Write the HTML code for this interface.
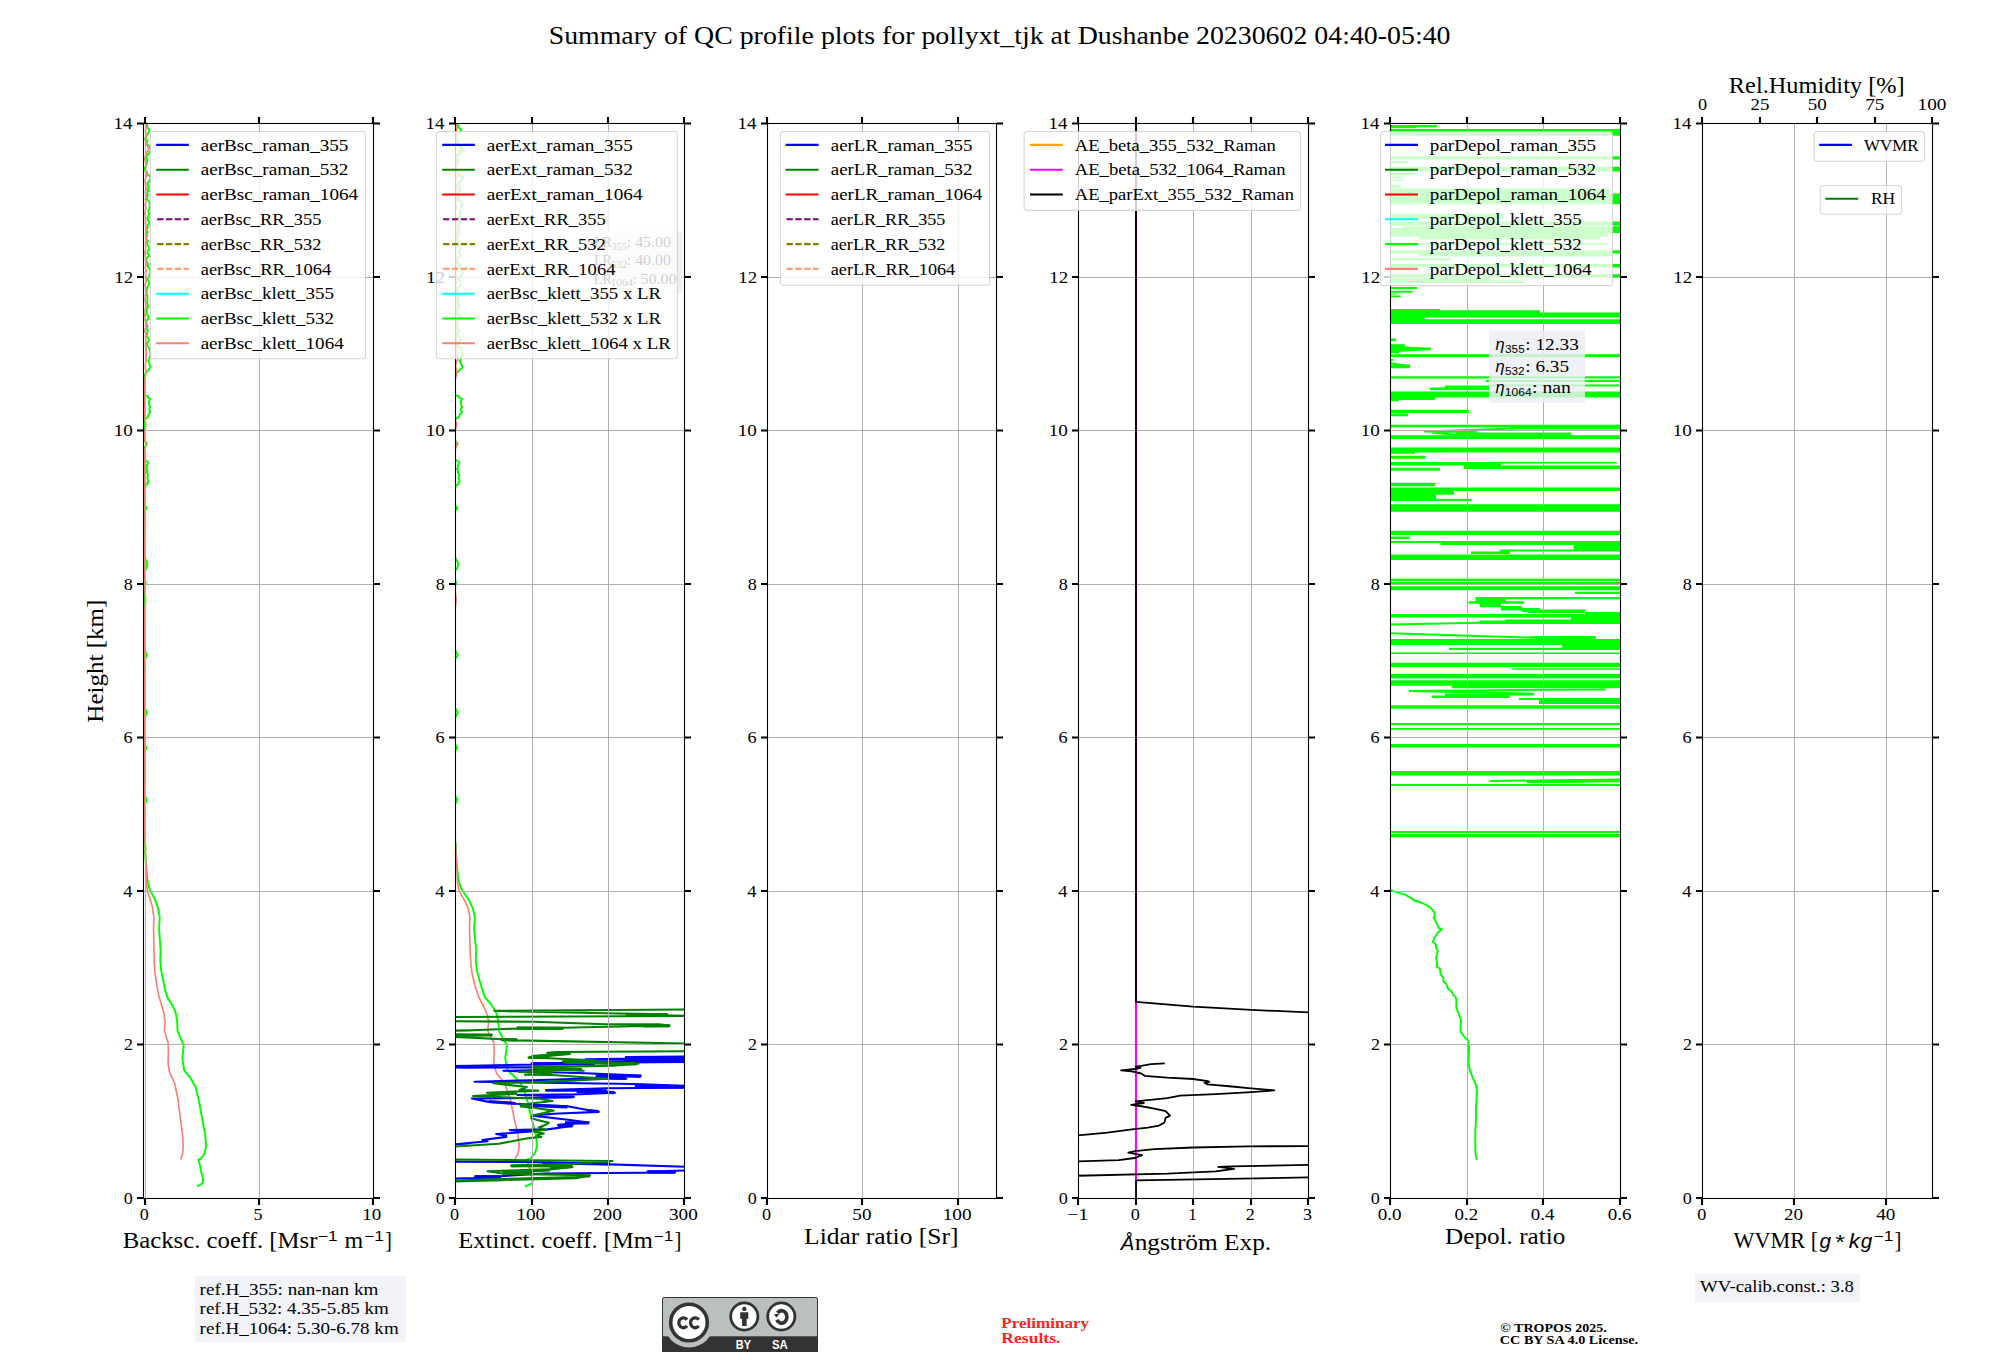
<!DOCTYPE html>
<html><head><meta charset="utf-8"><title>QC profile summary</title>
<style>html,body{margin:0;padding:0;background:#fff}svg{display:block}svg{font-family:"Liberation Serif",serif}text{white-space:pre}</style></head>
<body>
<svg width="2000" height="1360" viewBox="0 0 2000 1360" font-family="Liberation Serif, serif" fill="#000">
<rect width="2000" height="1360" fill="#fff"/>
<text x="122.74" y="1248.10" font-size="22.60" textLength="194.67" lengthAdjust="spacingAndGlyphs">Backsc. coeff. [Msr</text>
<text x="317.84" y="1240.50" font-size="14.42" textLength="19.68" lengthAdjust="spacingAndGlyphs" font-family="Liberation Sans, sans-serif">−1</text>
<text x="344.61" y="1248.10" font-size="22.60" textLength="18.69" lengthAdjust="spacingAndGlyphs">m</text>
<text x="364.12" y="1240.50" font-size="14.42" textLength="19.68" lengthAdjust="spacingAndGlyphs" font-family="Liberation Sans, sans-serif">−1</text>
<text x="385.04" y="1248.10" font-size="22.60" textLength="6.91" lengthAdjust="spacingAndGlyphs">]</text>
<text x="458.35" y="1248.10" font-size="22.60" textLength="194.47" lengthAdjust="spacingAndGlyphs">Extinct. coeff. [Mm</text>
<text x="653.61" y="1240.50" font-size="14.42" textLength="19.68" lengthAdjust="spacingAndGlyphs" font-family="Liberation Sans, sans-serif">−1</text>
<text x="674.53" y="1248.10" font-size="22.60" textLength="6.91" lengthAdjust="spacingAndGlyphs">]</text>
<text x="804.12" y="1243.60" font-size="22.60" textLength="154.40" lengthAdjust="spacingAndGlyphs">Lidar ratio [Sr]</text>
<text x="1120.72" y="1249.50" font-size="20.60" textLength="13.57" lengthAdjust="spacingAndGlyphs" font-family="Liberation Sans, sans-serif" font-style="italic">Å</text>
<text x="1134.70" y="1249.50" font-size="22.60" textLength="136.51" lengthAdjust="spacingAndGlyphs">ngström Exp.</text>
<text x="1445.13" y="1243.60" font-size="22.60" textLength="120.14" lengthAdjust="spacingAndGlyphs">Depol. ratio</text>
<text x="1733.60" y="1248.10" font-size="22.60" textLength="84.43" lengthAdjust="spacingAndGlyphs">WVMR [</text>
<text x="1819.49" y="1248.10" font-size="20.60" textLength="11.54" lengthAdjust="spacingAndGlyphs" font-family="Liberation Sans, sans-serif" font-style="italic">g</text>
<text x="1835.20" y="1249.30" font-size="20.60" textLength="9.67" lengthAdjust="spacingAndGlyphs" font-family="Liberation Sans, sans-serif">*</text>
<text x="1848.78" y="1248.10" font-size="20.60" textLength="11.10" lengthAdjust="spacingAndGlyphs" font-family="Liberation Sans, sans-serif" font-style="italic">k</text>
<text x="1860.81" y="1248.10" font-size="20.60" textLength="11.54" lengthAdjust="spacingAndGlyphs" font-family="Liberation Sans, sans-serif" font-style="italic">g</text>
<text x="1873.57" y="1240.50" font-size="14.42" textLength="19.68" lengthAdjust="spacingAndGlyphs" font-family="Liberation Sans, sans-serif">−1</text>
<text x="1894.49" y="1248.10" font-size="22.60" textLength="6.91" lengthAdjust="spacingAndGlyphs">]</text>
<text x="1728.85" y="93.30" font-size="22.60" textLength="175.80" lengthAdjust="spacingAndGlyphs">Rel.Humidity [%]</text>
<text x="42.05" y="661.70" font-size="22.60" textLength="123.05" lengthAdjust="spacingAndGlyphs" transform="rotate(-90 103.00 661.70)">Height [km]</text>
<text x="1697.96" y="109.50" font-size="17.26" textLength="9.07" lengthAdjust="spacingAndGlyphs">0</text>
<text x="1750.49" y="109.50" font-size="17.26" textLength="18.90" lengthAdjust="spacingAndGlyphs">25</text>
<text x="1807.78" y="109.50" font-size="17.26" textLength="19.06" lengthAdjust="spacingAndGlyphs">50</text>
<text x="1865.16" y="109.50" font-size="17.26" textLength="19.10" lengthAdjust="spacingAndGlyphs">75</text>
<text x="1917.57" y="109.50" font-size="17.26" textLength="28.89" lengthAdjust="spacingAndGlyphs">100</text>
<text x="548.65" y="43.90" font-size="25.11" textLength="901.84" lengthAdjust="spacingAndGlyphs">Summary of QC profile plots for pollyxt_tjk at Dushanbe 20230602 04:40-05:40</text>
<clipPath id="c0"><rect x="143.5" y="123.5" width="230.0" height="1075.0"/></clipPath>
<g clip-path="url(#c0)">
<path d="M147.2 123.5L146.5 124.8L147.5 126.2L147.4 127.5L148.8 128.9L149.5 130.2L148.8 131.6L148.7 132.9L147.1 134.3L146.8 135.6L146.0 137.0L145.7 138.3L146.4 139.7L147.7 141.0L146.7 142.4L146.5 143.7L147.8 145.1L149.7 146.4L150.2 147.8L150.3 149.1L151.6 150.5L149.2 151.8L149.6 153.2L148.2 154.5L146.7 155.9L146.1 157.2L146.3 158.6L147.7 159.9L146.8 161.3L146.8 162.6L146.8 164.0L146.0 165.3L145.7 166.7L144.9 168.0L144.7 169.4L145.2 170.7L146.8 172.1L147.2 173.4L147.7 174.8L149.6 176.1L150.9 177.5L150.1 178.8L149.8 180.2L148.8 181.5L147.4 182.9L147.6 184.2L147.7 185.6L148.6 186.9L148.7 188.3L147.7 189.6L148.8 191.0L147.3 192.3L147.3 193.7L148.0 195.0L147.0 196.4L147.4 197.7L146.8 199.1L148.1 200.4L149.3 201.8L149.6 203.1L150.6 204.5L149.6 205.8L149.6 207.2L149.3 208.5L148.9 209.9L148.2 211.2L148.6 212.6L149.2 213.9L148.4 215.3L148.4 216.6L147.0 218.0L147.8 219.3L148.0 220.7L149.1 222.0L149.2 223.4L147.9 224.7L147.5 226.1L148.0 227.4L146.6 228.8L147.0 230.1L146.4 231.5L146.0 232.8L145.7 234.2L147.2 235.5L146.5 236.9L146.4 238.2L146.6 239.6L148.0 240.9L146.8 242.3L147.0 243.6L147.4 245.0L148.4 246.3L148.8 247.7L149.2 249.0L147.9 250.4L147.6 251.7L147.2 253.1L148.3 254.4L149.1 255.8L147.6 257.1L146.8 258.5L146.5 259.8L146.3 261.2L147.1 262.5L148.1 263.9L148.1 265.2L147.7 266.6L148.8 267.9L149.4 269.3L150.0 270.6L150.8 272.0L150.3 273.3L149.4 274.7L148.9 276.0L148.6 277.4L146.9 278.7L148.2 280.1L148.6 281.4L149.1 282.8L149.1 284.1L148.2 285.5L147.7 286.8L146.7 288.2L147.4 289.6L146.6 290.9L146.3 292.3L146.7 293.6L146.9 295.0L147.5 296.3L147.3 297.7L147.2 299.0L147.4 300.4L147.1 301.7L147.5 303.1L146.7 304.4L148.3 305.8L148.4 307.1L147.1 308.5L146.6 309.8L146.7 311.2L146.8 312.5L146.2 313.9L147.7 315.2L148.9 316.6L148.2 317.9L147.9 319.3L146.7 320.6L146.2 322.0L146.4 323.3L146.4 324.7L147.7 326.0L146.8 327.4L146.0 328.7L147.8 330.1L147.8 331.4L146.8 332.8L147.3 334.1L146.3 335.5L146.9 336.8L148.4 338.2L148.9 339.5L148.8 340.9L147.7 342.2L147.3 343.6L146.6 344.9L147.9 346.3L148.6 347.6L149.8 349.0L149.8 350.3L149.7 351.7L150.5 353.0L150.8 354.4L150.4 355.7L149.7 357.1L149.3 358.4L149.1 359.8L148.3 361.1L148.9 362.5L149.3 363.8L149.6 365.2L150.5 366.5L150.2 367.9L148.9 369.2L147.9 370.6L146.8 371.9L145.4 373.3L144.8 374.6L145.0 376.0L145.1 377.3L144.7 378.7L144.4 380.0L144.3 381.4L144.2 382.7L144.1 384.1L144.4 385.4L144.7 386.8L144.8 388.1L144.7 389.5L144.7 390.8L144.8 392.2L144.4 393.5L144.5 394.9L147.7 396.2L147.8 397.6L150.2 398.9L149.6 400.3L148.8 401.6L149.5 403.0L149.0 404.3L149.6 405.7L150.3 407.0L149.6 408.4L149.2 409.7L150.0 411.1L150.0 412.4L149.0 413.8L148.3 415.1L148.0 416.5L147.0 417.8L144.7 419.2L144.4 420.5L144.7 421.9L144.9 423.2L144.8 424.6L144.6 425.9L144.6 427.3L144.3 428.6L144.1 430.0L144.6 431.3L144.6 432.7L144.6 434.0L144.8 435.4L144.6 436.7L144.8 438.1L144.9 439.4L145.1 440.8L145.8 442.1L146.7 443.5L146.5 444.8L145.7 446.2L144.6 447.5L144.3 448.9L144.2 450.2L144.6 451.6L144.5 452.9L144.4 454.3L144.5 455.6L144.8 457.0L144.6 458.3L144.8 459.7L146.6 461.0L148.1 462.4L147.9 463.7L146.9 465.1L147.1 466.4L146.8 467.8L146.2 469.1L147.5 470.5L146.9 471.8L147.2 473.2L147.9 474.5L147.9 475.9L147.5 477.2L147.6 478.6L147.8 479.9L148.3 481.3L147.3 482.6L147.6 484.0L145.5 485.3L145.4 486.7L144.5 488.0L144.5 489.4L144.6 490.7L144.7 492.1L144.9 493.4L144.7 494.8L144.7 496.1L144.6 497.5L144.6 498.8L144.7 500.2L144.6 501.5L144.6 502.9L144.5 504.2L145.1 505.6L145.9 506.9L146.6 508.3L145.8 509.6L144.7 511.0L144.6 512.3L144.8 513.7L144.9 515.0L144.5 516.4L144.2 517.7L144.3 519.1L144.1 520.4L144.1 521.8L144.0 523.1L144.3 524.5L144.6 525.8L144.8 527.2L144.4 528.5L144.6 529.9L144.7 531.2L144.4 532.6L144.7 533.9L144.9 535.3L144.5 536.6L144.8 538.0L144.6 539.3L144.6 540.7L144.8 542.0L144.9 543.4L144.5 544.7L144.5 546.1L144.5 547.4L144.4 548.8L144.2 550.1L144.2 551.5L144.5 552.8L144.2 554.2L144.5 555.5L145.0 556.9L145.2 558.2L145.7 559.6L146.4 560.9L146.9 562.3L147.1 563.6L147.3 565.0L147.0 566.3L146.7 567.7L145.8 569.0L145.2 570.4L144.5 571.7L144.5 573.1L144.3 574.4L144.2 575.8L144.3 577.1L144.6 578.5L145.1 579.8L145.3 581.2L145.6 582.5L145.8 583.9L145.3 585.2L144.9 586.6L144.3 587.9L144.1 589.3L144.4 590.6L144.4 592.0L144.2 593.3L144.6 594.7L144.6 596.0L144.8 597.4L144.4 598.7L144.7 600.1L144.3 601.4L144.6 602.8L144.5 604.1L144.4 605.5L144.5 606.8L144.8 608.2L144.5 609.5L144.3 610.9L144.4 612.2L144.3 613.6L144.1 614.9L144.1 616.3L144.0 617.6L144.0 619.0L144.1 620.3L144.2 621.7L144.5 623.0L144.4 624.4L144.4 625.7L144.2 627.1L144.3 628.4L144.1 629.8L144.1 631.1L144.0 632.5L144.4 633.8L144.5 635.2L144.3 636.5L144.4 637.9L144.7 639.2L144.4 640.6L144.6 641.9L144.5 643.3L144.5 644.6L144.7 646.0L144.6 647.3L144.5 648.7L144.6 650.0L145.5 651.4L145.8 652.7L146.6 654.1L146.8 655.4L146.2 656.8L145.4 658.1L144.7 659.5L144.2 660.8L144.1 662.2L144.0 663.5L144.4 664.9L144.3 666.2L144.2 667.6L144.0 668.9L144.5 670.3L144.7 671.6L144.7 673.0L144.5 674.3L144.3 675.7L144.3 677.0L144.3 678.4L144.2 679.7L144.3 681.1L144.2 682.4L144.7 683.8L144.9 685.1L144.7 686.5L144.5 687.8L144.8 689.2L144.5 690.5L144.4 691.9L144.1 693.2L144.2 694.6L144.3 695.9L144.4 697.3L144.3 698.6L144.4 700.0L144.1 701.3L144.1 702.7L144.0 704.0L144.2 705.4L144.3 706.7L144.8 708.1L145.5 709.4L146.1 710.8L146.9 712.1L146.4 713.5L146.0 714.8L145.5 716.2L144.9 717.5L144.9 718.9L144.6 720.2L144.5 721.6L144.8 722.9L144.4 724.3L144.6 725.6L144.7 727.0L144.3 728.3L144.6 729.7L144.8 731.0L144.8 732.4L144.8 733.7L144.9 735.1L144.5 736.4L144.5 737.8L144.5 739.1L144.7 740.5L144.8 741.8L144.9 743.2L145.0 744.5L145.6 745.9L146.1 747.2L146.2 748.6L145.3 749.9L144.5 751.3L144.1 752.6L144.2 754.0L144.1 755.3L144.5 756.7L144.5 758.0L144.6 759.4L144.6 760.7L144.7 762.1L144.6 763.4L144.2 764.8L144.5 766.1L144.7 767.5L144.6 768.8L144.6 770.2L144.6 771.5L144.3 772.9L144.5 774.2L144.4 775.6L144.1 776.9L144.2 778.3L144.5 779.6L144.3 781.0L144.5 782.3L144.8 783.7L144.7 785.0L144.5 786.4L144.5 787.7L144.6 789.1L144.7 790.4L144.7 791.8L144.7 793.1L144.8 794.5L145.1 795.8L145.5 797.2L146.2 798.5L146.5 799.9L146.3 801.2L145.6 802.6L145.0 803.9L144.6 805.3L144.5 806.6L144.6 808.0L144.6 809.3L144.4 810.7L144.5 812.0L144.5 813.4L144.5 814.7L144.2 816.1L144.6 817.4L144.4 818.8L144.7 820.1L144.9 821.5L144.4 822.8L144.4 824.2L144.7 825.5L144.9 826.9L144.7 828.2L144.5 829.6L144.3 830.9L144.7 832.3L144.4 833.6L144.5 835.0L144.3 836.3L144.5 837.7L145.0 839.0L144.7 840.4L145.0 841.7L145.0 843.1L145.3 844.4L145.4 845.8L145.2 847.1L145.5 848.5L145.5 849.8L145.2 851.2L145.0 852.5L145.3 853.9L145.5 855.2L145.5 856.6L145.5 857.9L145.6 859.3L145.7 860.6L146.1 862.0L145.8 863.3L146.2 864.7L146.5 866.0L146.2 867.4L146.6 868.7L146.5 870.0L147.4 879.4L149.1 887.6L150.9 891.8L155.0 899.4L157.9 907.6L159.7 917.1L159.1 928.8L159.9 940.6L160.6 950.0L160.3 959.4L161.1 970.0L163.2 980.6L165.6 991.2L167.4 997.6L172.1 1004.7L175.6 1012.4L176.9 1019.4L177.1 1020.0L177.6 1030.6L180.7 1038.5L183.7 1045.1L182.4 1058.4L184.2 1070.3L190.6 1078.2L195.9 1087.5L199.2 1102.1L202.5 1120.6L205.1 1133.8L206.2 1145.7L204.5 1153.7L201.2 1158.3L198.5 1159.6L200.1 1165.6L201.2 1172.2L203.2 1178.8L202.5 1183.4L197.2 1186.5" fill="none" stroke="#00ff00" stroke-width="1.95" stroke-linejoin="round"/>
<path d="M145.6 123.5L145.7 124.8L146.2 126.2L145.9 127.5L145.8 128.9L145.9 130.2L145.4 131.6L145.6 132.9L145.8 134.3L146.1 135.6L145.4 137.0L145.3 138.3L145.0 139.7L145.7 141.0L146.0 142.4L145.8 143.7L147.0 145.1L147.8 146.4L148.1 147.8L148.4 149.1L147.9 150.5L147.0 151.8L146.9 153.2L146.1 154.5L145.6 155.9L145.2 157.2L144.8 158.6L145.1 159.9L145.3 161.3L145.9 162.6L145.8 164.0L145.9 165.3L145.8 166.7L146.0 168.0L145.8 169.4L145.5 170.7L146.2 172.1L146.5 173.4L146.5 174.8L146.4 176.1L145.9 177.5L145.5 178.8L145.3 180.2L145.0 181.5L145.6 182.9L145.5 184.2L146.0 185.6L145.7 186.9L146.3 188.3L146.4 189.6L145.5 191.0L145.3 192.3L145.9 193.7L145.8 195.0L146.3 196.4L145.9 197.7L145.3 199.1L145.6 200.4L146.0 201.8L145.6 203.1L145.2 204.5L145.2 205.8L146.0 207.2L146.1 208.5L145.5 209.9L145.3 211.2L145.0 212.6L144.8 213.9L145.6 215.3L145.3 216.6L145.5 218.0L145.5 219.3L145.3 220.7L145.7 222.0L145.3 223.4L145.8 224.7L145.7 226.1L146.2 227.4L146.4 228.8L146.7 230.1L147.8 231.5L148.0 232.8L147.2 234.2L147.3 235.5L146.4 236.9L146.0 238.2L146.1 239.6L146.0 240.9L145.4 242.3L146.1 243.6L145.6 245.0L145.4 246.3L145.8 247.7L145.6 249.0L145.4 250.4L145.0 251.7L144.9 253.1L145.3 254.4L145.2 255.8L145.5 257.1L145.5 258.5L145.5 259.8L146.1 261.2L145.9 262.5L145.9 263.9L146.2 265.2L145.6 266.6L145.3 267.9L145.9 269.3L146.2 270.6L145.7 272.0L145.3 273.3L145.8 274.7L146.2 276.0L145.7 277.4L146.2 278.7L146.4 280.1L146.2 281.4L145.9 282.8L145.3 284.1L145.0 285.5L145.8 286.8L145.5 288.2L145.8 289.6L145.5 290.9L146.0 292.3L145.9 293.6L145.6 295.0L145.3 296.3L145.7 297.7L145.2 299.0L145.1 300.4L145.4 301.7L146.0 303.1L146.0 304.4L145.6 305.8L146.1 307.1L145.6 308.5L145.1 309.8L145.1 311.2L145.3 312.5L145.0 313.9L144.9 315.2L145.1 316.6L145.5 317.9L145.1 319.3L145.2 320.6L145.9 322.0L146.4 323.3L146.2 324.7L146.2 326.0L146.1 327.4L145.5 328.7L145.1 330.1L144.8 331.4L145.7 332.8L145.9 334.1L146.4 335.5L145.5 336.8L145.8 338.2L145.7 339.5L146.0 340.9L145.6 342.2L146.2 343.6L145.5 344.9L145.6 346.3L145.9 347.6L146.3 349.0L146.3 350.3L146.3 351.7L146.3 353.0L146.5 354.4L146.0 355.7L146.1 357.1L146.4 358.4L146.5 359.8L145.8 361.1L145.7 362.5L145.5 363.8L145.3 365.2L145.3 366.5L145.4 367.9L145.6 369.2L145.9 370.6L146.0 371.9L145.9 373.3L145.7 374.6L145.5 376.0L145.3 377.3L145.1 378.7L144.9 380.0L144.9 381.4L144.9 382.7L144.9 384.1L144.8 385.4L144.9 386.8L144.8 388.1L144.8 389.5L144.8 390.8L144.8 392.2L144.9 393.5L144.9 394.9L144.9 396.2L144.9 397.6L144.9 398.9L144.8 400.3L144.8 401.6L144.8 403.0L144.8 404.3L144.8 405.7L144.9 407.0L144.9 408.4L144.9 409.7L144.9 411.1L144.9 412.4L144.9 413.8L144.8 415.1L144.8 416.5L144.9 417.8L145.0 419.2L145.2 420.5L145.5 421.9L145.7 423.2L146.0 424.6L145.8 425.9L145.6 427.3L145.4 428.6L145.1 430.0L144.9 431.3L145.0 432.7L144.9 434.0L144.8 435.4L144.8 436.7L144.8 438.1L144.8 439.4L145.0 440.8L145.3 442.1L145.5 443.5L145.8 444.8L145.7 446.2L145.4 447.5L145.1 448.9L144.8 450.2L144.8 451.6L144.9 452.9L144.8 454.3L144.8 455.6L144.9 457.0L144.8 458.3L144.9 459.7L144.8 461.0L144.8 462.4L144.8 463.7L144.8 465.1L144.8 466.4L144.8 467.8L144.8 469.1L144.7 470.5L144.8 471.8L144.8 473.2L144.9 474.5L144.9 475.9L144.9 477.2L144.9 478.6L144.9 479.9L144.9 481.3L144.8 482.6L144.8 484.0L144.8 485.3L144.8 486.7L144.8 488.0L144.8 489.4L144.8 490.7L144.8 492.1L144.8 493.4L144.9 494.8L144.9 496.1L144.9 497.5L144.9 498.8L144.9 500.2L144.9 501.5L144.8 502.9L144.9 504.2L144.9 505.6L144.8 506.9L144.8 508.3L144.9 509.6L144.9 511.0L144.9 512.3L144.9 513.7L144.9 515.0L144.9 516.4L145.0 517.7L144.9 519.1L144.9 520.4L144.8 521.8L144.9 523.1L144.9 524.5L144.9 525.8L144.9 527.2L144.8 528.5L144.9 529.9L144.9 531.2L145.0 532.6L144.9 533.9L144.9 535.3L144.9 536.6L144.9 538.0L144.9 539.3L144.9 540.7L144.8 542.0L144.8 543.4L144.8 544.7L144.9 546.1L144.9 547.4L144.8 548.8L144.9 550.1L144.8 551.5L144.9 552.8L144.8 554.2L144.8 555.5L144.9 556.9L144.8 558.2L144.8 559.6L144.8 560.9L144.9 562.3L144.9 563.6L144.9 565.0L144.9 566.3L144.9 567.7L144.9 569.0L144.8 570.4L144.8 571.7L144.8 573.1L144.8 574.4L144.9 575.8L144.9 577.1L144.9 578.5L144.9 579.8L144.9 581.2L144.8 582.5L144.8 583.9L144.9 585.2L144.9 586.6L144.9 587.9L144.9 589.3L145.0 590.6L145.1 592.0L145.2 593.3L145.2 594.7L145.3 596.0L145.4 597.4L145.6 598.7L145.6 600.1L145.6 601.4L145.5 602.8L145.3 604.1L145.3 605.5L145.1 606.8L145.0 608.2L144.9 609.5L144.8 610.9L144.8 612.2L144.8 613.6L144.9 614.9L144.9 616.3L144.9 617.6L144.9 619.0L144.8 620.3L144.8 621.7L144.9 623.0L144.9 624.4L144.9 625.7L144.8 627.1L144.8 628.4L144.8 629.8L144.9 631.1L144.8 632.5L144.9 633.8L144.8 635.2L144.8 636.5L144.8 637.9L144.8 639.2L144.8 640.6L144.8 641.9L144.8 643.3L144.8 644.6L144.9 646.0L144.8 647.3L144.8 648.7L144.8 650.0L144.8 651.4L144.8 652.7L144.8 654.1L144.8 655.4L144.8 656.8L144.8 658.1L144.8 659.5L144.8 660.8L144.8 662.2L144.9 663.5L144.9 664.9L144.9 666.2L144.9 667.6L144.9 668.9L144.9 670.3L144.9 671.6L144.9 673.0L144.9 674.3L144.9 675.7L144.8 677.0L144.9 678.4L144.8 679.7L144.9 681.1L144.9 682.4L144.8 683.8L144.8 685.1L144.9 686.5L144.8 687.8L144.8 689.2L144.9 690.5L144.8 691.9L144.9 693.2L144.8 694.6L144.8 695.9L144.9 697.3L144.8 698.6L144.8 700.0L144.8 701.3L144.9 702.7L144.9 704.0L144.8 705.4L144.8 706.7L144.9 708.1L144.9 709.4L144.9 710.8L144.8 712.1L144.8 713.5L144.8 714.8L144.7 716.2L144.8 717.5L144.8 718.9L144.8 720.2L144.8 721.6L144.8 722.9L144.8 724.3L144.9 725.6L144.9 727.0L145.0 728.3L144.8 729.7L144.8 731.0L144.9 732.4L144.9 733.7L144.9 735.1L144.8 736.4L144.8 737.8L144.8 739.1L144.8 740.5L144.9 741.8L144.8 743.2L144.8 744.5L144.9 745.9L144.8 747.2L144.8 748.6L144.9 749.9L144.8 751.3L144.8 752.6L144.8 754.0L144.8 755.3L144.8 756.7L144.9 758.0L144.9 759.4L144.9 760.7L144.9 762.1L144.9 763.4L144.9 764.8L144.9 766.1L144.9 767.5L144.9 768.8L144.9 770.2L144.9 771.5L144.9 772.9L144.9 774.2L144.9 775.6L144.9 776.9L144.9 778.3L144.9 779.6L144.9 781.0L144.9 782.3L144.9 783.7L144.9 785.0L144.9 786.4L144.9 787.7L144.8 789.1L144.8 790.4L144.8 791.8L144.8 793.1L144.8 794.5L144.8 795.8L144.9 797.2L144.8 798.5L144.9 799.9L144.9 801.2L144.9 802.6L144.9 803.9L144.9 805.3L144.9 806.6L144.8 808.0L144.9 809.3L144.9 810.7L144.9 812.0L144.9 813.4L145.0 814.7L144.8 816.1L144.9 817.4L144.9 818.8L144.8 820.1L144.8 821.5L144.8 822.8L144.8 824.2L144.8 825.5L144.8 826.9L144.8 828.2L144.9 829.6L144.9 830.9L144.9 832.3L144.9 833.6L144.9 835.0L145.0 836.3L145.0 837.7L145.1 839.0L145.0 840.4L145.1 841.7L145.2 843.1L145.2 844.4L145.3 845.8L145.3 847.1L145.3 848.5L145.4 849.8L145.4 851.2L145.5 852.5L145.5 853.9L145.7 855.2L145.7 856.6L145.7 857.9L145.8 859.3L145.8 860.6L145.9 862.0L145.9 863.3L146.0 864.7L146.0 866.0L146.1 867.4L146.1 868.7L146.2 870.0L146.4 881.8L147.4 891.2L150.3 899.4L152.6 907.6L153.8 917.1L153.6 928.8L153.8 940.6L154.1 952.4L154.4 964.1L155.0 972.4L156.8 985.3L159.1 997.1L162.1 1006.5L164.2 1014.7L164.6 1019.4L165.2 1020.0L164.4 1030.6L168.1 1042.5L168.4 1053.1L168.1 1063.7L169.7 1072.9L174.7 1083.5L178.0 1099.4L180.3 1117.9L182.4 1133.8L183.3 1145.7L182.6 1153.7L180.7 1159.4" fill="none" stroke="#fa8072" stroke-width="1.65" stroke-linejoin="round"/>
</g>
<path d="M143.5 1044.50H373.5M143.5 891.50H373.5M143.5 737.50H373.5M143.5 584.50H373.5M143.5 430.50H373.5M143.5 277.50H373.5M145.50 123.5V1198.5M259.50 123.5V1198.5" stroke="#b0b0b0" stroke-width="1" fill="none"/>
<rect x="143.5" y="123.5" width="230.0" height="1075.0" fill="none" stroke="#000" stroke-width="1.1"/>
<path d="M137.00 1198.00H143.50M373.50 1198.00H380.00M137.00 1044.50H143.50M373.50 1044.50H380.00M137.00 891.00H143.50M373.50 891.00H380.00M137.00 737.50H143.50M373.50 737.50H380.00M137.00 584.00H143.50M373.50 584.00H380.00M137.00 430.50H143.50M373.50 430.50H380.00M137.00 277.00H143.50M373.50 277.00H380.00M137.00 123.50H143.50M373.50 123.50H380.00M145.00 1198.50V1205.00M145.00 123.50V117.00M259.00 1198.50V1205.00M259.00 123.50V117.00M373.00 1198.50V1205.00M373.00 123.50V117.00" stroke="#000" stroke-width="2.1" fill="none"/>
<text x="123.79" y="1203.50" font-size="17.26" textLength="9.07" lengthAdjust="spacingAndGlyphs">0</text>
<text x="124.14" y="1050.00" font-size="17.26" textLength="9.03" lengthAdjust="spacingAndGlyphs">2</text>
<text x="123.27" y="896.50" font-size="17.26" textLength="9.18" lengthAdjust="spacingAndGlyphs">4</text>
<text x="123.61" y="743.00" font-size="17.26" textLength="9.13" lengthAdjust="spacingAndGlyphs">6</text>
<text x="123.79" y="589.50" font-size="17.26" textLength="9.07" lengthAdjust="spacingAndGlyphs">8</text>
<text x="113.83" y="436.00" font-size="17.26" textLength="19.07" lengthAdjust="spacingAndGlyphs">10</text>
<text x="114.31" y="282.50" font-size="17.26" textLength="18.90" lengthAdjust="spacingAndGlyphs">12</text>
<text x="113.59" y="129.00" font-size="17.26" textLength="18.86" lengthAdjust="spacingAndGlyphs">14</text>
<text x="139.86" y="1220.20" font-size="17.26" textLength="9.07" lengthAdjust="spacingAndGlyphs">0</text>
<text x="253.61" y="1220.20" font-size="17.26" textLength="9.02" lengthAdjust="spacingAndGlyphs">5</text>
<text x="362.19" y="1220.20" font-size="17.26" textLength="19.07" lengthAdjust="spacingAndGlyphs">10</text>
<rect x="150.4" y="131.5" width="215.1" height="227.3" rx="3.2" fill="#fff" fill-opacity="0.8" stroke="#ccc" stroke-opacity="0.8" stroke-width="1.1"/>
<line x1="156.20" y1="144.90" x2="188.90" y2="144.90" stroke="#0000ff" stroke-width="2.1"/>
<text x="200.66" y="150.50" font-size="17.26" textLength="147.79" lengthAdjust="spacingAndGlyphs">aerBsc_raman_355</text>
<line x1="156.20" y1="169.70" x2="188.90" y2="169.70" stroke="#008000" stroke-width="2.1"/>
<text x="200.66" y="175.30" font-size="17.26" textLength="147.80" lengthAdjust="spacingAndGlyphs">aerBsc_raman_532</text>
<line x1="156.20" y1="194.50" x2="188.90" y2="194.50" stroke="#ff0000" stroke-width="2.1"/>
<text x="200.66" y="200.10" font-size="17.26" textLength="157.55" lengthAdjust="spacingAndGlyphs">aerBsc_raman_1064</text>
<line x1="156.20" y1="219.30" x2="188.90" y2="219.30" stroke="#800080" stroke-width="2.1" stroke-dasharray="6.34 2.49" stroke-dashoffset="-0.9"/>
<text x="200.69" y="224.90" font-size="17.26" textLength="120.75" lengthAdjust="spacingAndGlyphs">aerBsc_RR_355</text>
<line x1="156.20" y1="244.10" x2="188.90" y2="244.10" stroke="#808000" stroke-width="2.1" stroke-dasharray="6.34 2.49" stroke-dashoffset="-0.9"/>
<text x="200.69" y="249.70" font-size="17.26" textLength="120.75" lengthAdjust="spacingAndGlyphs">aerBsc_RR_532</text>
<line x1="156.20" y1="268.90" x2="188.90" y2="268.90" stroke="#ffa07a" stroke-width="2.1" stroke-dasharray="6.34 2.49" stroke-dashoffset="-0.9"/>
<text x="200.68" y="274.50" font-size="17.26" textLength="130.53" lengthAdjust="spacingAndGlyphs">aerBsc_RR_1064</text>
<line x1="156.20" y1="293.70" x2="188.90" y2="293.70" stroke="#00ffff" stroke-width="2.1"/>
<text x="200.67" y="299.30" font-size="17.26" textLength="133.31" lengthAdjust="spacingAndGlyphs">aerBsc_klett_355</text>
<line x1="156.20" y1="318.50" x2="188.90" y2="318.50" stroke="#00ff00" stroke-width="2.1"/>
<text x="200.66" y="324.10" font-size="17.26" textLength="133.32" lengthAdjust="spacingAndGlyphs">aerBsc_klett_532</text>
<line x1="156.20" y1="343.30" x2="188.90" y2="343.30" stroke="#fa8072" stroke-width="2.1"/>
<text x="200.66" y="348.90" font-size="17.26" textLength="143.07" lengthAdjust="spacingAndGlyphs">aerBsc_klett_1064</text>
<clipPath id="c1"><rect x="455.5" y="123.5" width="229.0" height="1075.0"/></clipPath>
<g clip-path="url(#c1)">
<path d="M458.1 123.5L457.3 124.8L458.6 126.2L458.4 127.5L460.3 128.9L461.3 130.2L460.3 131.6L460.1 132.9L458.0 134.3L457.6 135.6L456.6 137.0L456.2 138.3L457.1 139.7L458.9 141.0L457.6 142.4L457.2 143.7L459.0 145.1L461.6 146.4L462.2 147.8L462.3 149.1L464.0 150.5L460.9 151.8L461.4 153.2L459.5 154.5L457.5 155.9L456.8 157.2L457.0 158.6L458.8 159.9L457.6 161.3L457.7 162.6L457.7 164.0L456.5 165.3L456.2 166.7L455.1 168.0L454.9 169.4L455.5 170.7L457.7 172.1L458.1 173.4L458.9 174.8L461.4 176.1L463.1 177.5L462.1 178.8L461.6 180.2L460.3 181.5L458.4 182.9L458.8 184.2L458.8 185.6L460.0 186.9L460.2 188.3L458.8 189.6L460.3 191.0L458.4 192.3L458.2 193.7L459.3 195.0L457.9 196.4L458.5 197.7L457.6 199.1L459.4 200.4L460.9 201.8L461.4 203.1L462.8 204.5L461.3 205.8L461.4 207.2L460.9 208.5L460.4 209.9L459.5 211.2L460.1 212.6L460.8 213.9L459.8 215.3L459.8 216.6L457.9 218.0L458.9 219.3L459.3 220.7L460.7 222.0L460.8 223.4L459.2 224.7L458.6 226.1L459.2 227.4L457.4 228.8L457.9 230.1L457.2 231.5L456.6 232.8L456.1 234.2L458.2 235.5L457.2 236.9L457.0 238.2L457.4 239.6L459.2 240.9L457.6 242.3L457.9 243.6L458.5 245.0L459.8 246.3L460.4 247.7L460.8 249.0L459.1 250.4L458.7 251.7L458.2 253.1L459.7 254.4L460.8 255.8L458.7 257.1L457.6 258.5L457.2 259.8L457.0 261.2L458.0 262.5L459.4 263.9L459.4 265.2L458.9 266.6L460.3 267.9L461.2 269.3L461.9 270.6L463.0 272.0L462.3 273.3L461.1 274.7L460.5 276.0L460.0 277.4L457.8 278.7L459.5 280.1L460.1 281.4L460.7 282.8L460.8 284.1L459.5 285.5L458.8 286.8L457.5 288.2L458.5 289.6L457.4 290.9L457.0 292.3L457.5 293.6L457.7 295.0L458.6 296.3L458.3 297.7L458.1 299.0L458.5 300.4L458.1 301.7L458.6 303.1L457.6 304.4L459.6 305.8L459.7 307.1L458.1 308.5L457.4 309.8L457.5 311.2L457.6 312.5L456.9 313.9L458.8 315.2L460.4 316.6L459.5 317.9L459.1 319.3L457.6 320.6L456.8 322.0L457.1 323.3L457.1 324.7L458.9 326.0L457.7 327.4L456.6 328.7L459.0 330.1L459.0 331.4L457.7 332.8L458.3 334.1L456.9 335.5L457.8 336.8L459.8 338.2L460.5 339.5L460.3 340.9L458.8 342.2L458.3 343.6L457.4 344.9L459.1 346.3L460.0 347.6L461.7 349.0L461.6 350.3L461.6 351.7L462.6 353.0L463.0 354.4L462.4 355.7L461.6 357.1L461.0 358.4L460.7 359.8L459.6 361.1L460.4 362.5L461.0 363.8L461.4 365.2L462.6 366.5L462.2 367.9L460.5 369.2L459.1 370.6L457.7 371.9L455.7 373.3L455.0 374.6L455.2 376.0L455.3 377.3L454.9 378.7L454.5 380.0L454.3 381.4L454.1 382.7L454.1 384.1L454.4 385.4L454.8 386.8L455.0 388.1L454.8 389.5L454.8 390.8L455.0 392.2L454.4 393.5L454.6 394.9L458.8 396.2L459.0 397.6L462.1 398.9L461.4 400.3L460.3 401.6L461.2 403.0L460.6 404.3L461.4 405.7L462.3 407.0L461.3 408.4L460.8 409.7L461.9 411.1L462.0 412.4L460.5 413.8L459.7 415.1L459.2 416.5L457.9 417.8L454.9 419.2L454.4 420.5L454.8 421.9L455.1 423.2L455.0 424.6L454.7 425.9L454.7 427.3L454.3 428.6L454.0 430.0L454.7 431.3L454.7 432.7L454.7 434.0L455.0 435.4L454.8 436.7L455.0 438.1L455.1 439.4L455.3 440.8L456.3 442.1L457.5 443.5L457.2 444.8L456.2 446.2L454.7 447.5L454.3 448.9L454.1 450.2L454.7 451.6L454.5 452.9L454.5 454.3L454.6 455.6L454.9 457.0L454.7 458.3L455.0 459.7L457.4 461.0L459.3 462.4L459.2 463.7L457.8 465.1L458.1 466.4L457.6 467.8L456.9 469.1L458.5 470.5L457.8 471.8L458.2 473.2L459.1 474.5L459.1 475.9L458.5 477.2L458.7 478.6L458.9 479.9L459.6 481.3L458.3 482.6L458.7 484.0L456.0 485.3L455.7 486.7L454.6 488.0L454.6 489.4L454.6 490.7L454.8 492.1L455.1 493.4L454.8 494.8L454.8 496.1L454.7 497.5L454.6 498.8L454.8 500.2L454.6 501.5L454.6 502.9L454.6 504.2L455.4 505.6L456.5 506.9L457.3 508.3L456.4 509.6L454.8 511.0L454.7 512.3L455.0 513.7L455.1 515.0L454.6 516.4L454.2 517.7L454.3 519.1L454.1 520.4L454.1 521.8L453.9 523.1L454.4 524.5L454.7 525.8L455.0 527.2L454.5 528.5L454.7 529.9L454.8 531.2L454.4 532.6L454.8 533.9L455.1 535.3L454.6 536.6L455.0 538.0L454.7 539.3L454.6 540.7L455.0 542.0L455.1 543.4L454.6 544.7L454.5 546.1L454.5 547.4L454.4 548.8L454.2 550.1L454.2 551.5L454.6 552.8L454.1 554.2L454.6 555.5L455.2 556.9L455.5 558.2L456.2 559.6L457.1 560.9L457.7 562.3L458.0 563.6L458.3 565.0L457.9 566.3L457.6 567.7L456.3 569.0L455.5 570.4L454.6 571.7L454.5 573.1L454.3 574.4L454.1 575.8L454.3 577.1L454.7 578.5L455.3 579.8L455.6 581.2L456.0 582.5L456.3 583.9L455.6 585.2L455.1 586.6L454.4 587.9L454.1 589.3L454.5 590.6L454.4 592.0L454.1 593.3L454.7 594.7L454.8 596.0L454.9 597.4L454.4 598.7L454.8 600.1L454.3 601.4L454.7 602.8L454.6 604.1L454.5 605.5L454.5 606.8L454.9 608.2L454.6 609.5L454.2 610.9L454.4 612.2L454.3 613.6L454.1 614.9L454.0 616.3L453.9 617.6L453.9 619.0L454.0 620.3L454.1 621.7L454.5 623.0L454.4 624.4L454.5 625.7L454.2 627.1L454.2 628.4L454.0 629.8L454.0 631.1L453.8 632.5L454.4 633.8L454.5 635.2L454.3 636.5L454.4 637.9L454.8 639.2L454.4 640.6L454.7 641.9L454.6 643.3L454.6 644.6L454.9 646.0L454.6 647.3L454.6 648.7L454.8 650.0L455.9 651.4L456.3 652.7L457.3 654.1L457.7 655.4L456.8 656.8L455.8 658.1L454.8 659.5L454.1 660.8L454.0 662.2L453.9 663.5L454.4 664.9L454.3 666.2L454.1 667.6L454.0 668.9L454.5 670.3L454.9 671.6L454.9 673.0L454.5 674.3L454.3 675.7L454.3 677.0L454.4 678.4L454.2 679.7L454.3 681.1L454.2 682.4L454.8 683.8L455.1 685.1L454.9 686.5L454.5 687.8L454.9 689.2L454.6 690.5L454.5 691.9L454.1 693.2L454.2 694.6L454.3 695.9L454.4 697.3L454.2 698.6L454.4 700.0L454.0 701.3L454.1 702.7L453.9 704.0L454.1 705.4L454.3 706.7L455.0 708.1L455.9 709.4L456.8 710.8L457.8 712.1L457.1 713.5L456.6 714.8L455.9 716.2L455.2 717.5L455.1 718.9L454.7 720.2L454.5 721.6L455.0 722.9L454.5 724.3L454.7 725.6L454.8 727.0L454.3 728.3L454.7 729.7L455.0 731.0L454.9 732.4L455.0 733.7L455.0 735.1L454.5 736.4L454.6 737.8L454.6 739.1L454.9 740.5L455.0 741.8L455.1 743.2L455.2 744.5L456.1 745.9L456.7 747.2L456.8 748.6L455.7 749.9L454.6 751.3L454.0 752.6L454.1 754.0L454.0 755.3L454.5 756.7L454.6 758.0L454.7 759.4L454.7 760.7L454.8 762.1L454.7 763.4L454.2 764.8L454.6 766.1L454.8 767.5L454.7 768.8L454.7 770.2L454.8 771.5L454.3 772.9L454.6 774.2L454.4 775.6L454.1 776.9L454.1 778.3L454.5 779.6L454.3 781.0L454.6 782.3L455.0 783.7L454.8 785.0L454.6 786.4L454.6 787.7L454.7 789.1L454.9 790.4L454.8 791.8L454.9 793.1L455.0 794.5L455.3 795.8L455.9 797.2L456.8 798.5L457.3 799.9L457.0 801.2L456.0 802.6L455.2 803.9L454.8 805.3L454.6 806.6L454.6 808.0L454.8 809.3L454.5 810.7L454.5 812.0L454.5 813.4L454.5 814.7L454.2 816.1L454.7 817.4L454.4 818.8L454.9 820.1L455.1 821.5L454.4 822.8L454.5 824.2L454.8 825.5L455.1 826.9L454.8 828.2L454.5 829.6L454.3 830.9L454.8 832.3L454.4 833.6L454.6 835.0L454.4 836.3L454.6 837.7L455.2 839.0L454.8 840.4L455.3 841.7L455.3 843.1L455.7 844.4L455.8 845.8L455.5 847.1L455.9 848.5L455.9 849.8L455.5 851.2L455.3 852.5L455.7 853.9L455.9 855.2L455.9 856.6L455.8 857.9L456.0 859.3L456.1 860.6L456.7 862.0L456.3 863.3L456.8 864.7L457.2 866.0L456.9 867.4L457.4 868.7L457.3 870.0L458.4 879.4L460.7 887.6L463.1 891.8L468.6 899.4L472.5 907.6L474.9 917.1L474.1 928.8L475.2 940.6L476.2 950.0L475.7 959.4L476.8 970.0L479.6 980.6L482.8 991.2L485.1 997.6L491.4 1004.7L496.2 1012.4L497.9 1019.4L498.2 1020.0L498.9 1030.6L502.9 1038.5L507.0 1045.1L505.2 1058.4L507.7 1070.3L516.2 1078.2L523.3 1087.5L527.7 1102.1L532.2 1120.6L535.7 1133.8L537.1 1145.7L534.8 1153.7L530.4 1158.3L526.8 1159.6L529.0 1165.6L530.4 1172.2L533.0 1178.8L532.2 1183.4L525.1 1186.5" fill="none" stroke="#00ff00" stroke-width="1.95" stroke-linejoin="round"/>
<path d="M456.2 123.5L456.4 124.8L457.2 126.2L456.7 127.5L456.6 128.9L456.6 130.2L455.9 131.6L456.1 132.9L456.5 134.3L457.0 135.6L455.9 137.0L455.7 138.3L455.2 139.7L456.3 141.0L456.9 142.4L456.6 143.7L458.5 145.1L459.9 146.4L460.3 147.8L460.8 149.1L460.0 150.5L458.5 151.8L458.3 153.2L457.0 154.5L456.2 155.9L455.6 157.2L454.8 158.6L455.4 159.9L455.7 161.3L456.7 162.6L456.5 164.0L456.7 165.3L456.5 166.7L456.8 168.0L456.5 169.4L456.0 170.7L457.1 172.1L457.7 173.4L457.8 174.8L457.5 176.1L456.6 177.5L456.0 178.8L455.7 180.2L455.2 181.5L456.2 182.9L456.1 184.2L456.9 185.6L456.4 186.9L457.3 188.3L457.5 189.6L456.0 191.0L455.6 192.3L456.7 193.7L456.5 195.0L457.3 196.4L456.7 197.7L455.7 199.1L456.2 200.4L456.8 201.8L456.2 203.1L455.4 204.5L455.5 205.8L456.8 207.2L457.1 208.5L456.0 209.9L455.7 211.2L455.2 212.6L454.9 213.9L456.1 215.3L455.6 216.6L456.0 218.0L456.1 219.3L455.6 220.7L456.4 222.0L455.6 223.4L456.5 224.7L456.4 226.1L457.2 227.4L457.5 228.8L458.0 230.1L459.9 231.5L460.1 232.8L458.8 234.2L459.0 235.5L457.5 236.9L456.8 238.2L457.0 239.6L456.9 240.9L455.9 242.3L457.0 243.6L456.2 245.0L455.8 246.3L456.6 247.7L456.1 249.0L455.8 250.4L455.2 251.7L454.9 253.1L455.7 254.4L455.5 255.8L456.1 257.1L455.9 258.5L456.0 259.8L457.1 261.2L456.7 262.5L456.7 263.9L457.2 265.2L456.2 266.6L455.6 267.9L456.7 269.3L457.2 270.6L456.3 272.0L455.7 273.3L456.5 274.7L457.3 276.0L456.3 277.4L457.2 278.7L457.5 280.1L457.2 281.4L456.7 282.8L455.7 284.1L455.1 285.5L456.6 286.8L456.0 288.2L456.5 289.6L456.0 290.9L456.8 292.3L456.8 293.6L456.2 295.0L455.6 296.3L456.4 297.7L455.5 299.0L455.4 300.4L455.9 301.7L456.8 303.1L456.8 304.4L456.2 305.8L457.0 307.1L456.2 308.5L455.3 309.8L455.3 311.2L455.7 312.5L455.1 313.9L455.0 315.2L455.4 316.6L455.9 317.9L455.4 319.3L455.6 320.6L456.7 322.0L457.4 323.3L457.2 324.7L457.2 326.0L457.0 327.4L456.0 328.7L455.3 330.1L454.8 331.4L456.3 332.8L456.7 334.1L457.4 335.5L456.0 336.8L456.4 338.2L456.3 339.5L456.8 340.9L456.2 342.2L457.2 343.6L456.0 344.9L456.2 346.3L456.7 347.6L457.3 349.0L457.3 350.3L457.3 351.7L457.4 353.0L457.7 354.4L456.8 355.7L457.0 357.1L457.5 358.4L457.7 359.8L456.6 361.1L456.3 362.5L456.0 363.8L455.6 365.2L455.6 366.5L455.9 367.9L456.2 369.2L456.6 370.6L456.8 371.9L456.6 373.3L456.4 374.6L456.1 376.0L455.7 377.3L455.3 378.7L455.0 380.0L455.0 381.4L454.9 382.7L455.0 384.1L454.9 385.4L454.9 386.8L454.8 388.1L454.9 389.5L454.9 390.8L454.8 392.2L454.9 393.5L454.9 394.9L454.9 396.2L455.0 397.6L454.9 398.9L454.8 400.3L454.8 401.6L454.9 403.0L454.8 404.3L454.8 405.7L454.9 407.0L455.0 408.4L454.9 409.7L455.0 411.1L454.9 412.4L455.0 413.8L454.9 415.1L454.9 416.5L455.0 417.8L455.1 419.2L455.6 420.5L455.9 421.9L456.4 423.2L456.8 424.6L456.5 425.9L456.1 427.3L455.8 428.6L455.4 430.0L455.0 431.3L455.1 432.7L455.0 434.0L454.9 435.4L454.9 436.7L454.8 438.1L454.8 439.4L455.1 440.8L455.6 442.1L456.1 443.5L456.5 444.8L456.3 446.2L455.9 447.5L455.4 448.9L454.9 450.2L454.8 451.6L454.9 452.9L454.8 454.3L454.9 455.6L454.9 457.0L454.9 458.3L455.0 459.7L454.8 461.0L454.8 462.4L454.8 463.7L454.8 465.1L454.9 466.4L454.8 467.8L454.8 469.1L454.7 470.5L454.8 471.8L454.9 473.2L454.9 474.5L455.0 475.9L455.0 477.2L455.1 478.6L455.0 479.9L454.9 481.3L454.9 482.6L454.8 484.0L454.8 485.3L454.8 486.7L454.9 488.0L454.8 489.4L454.8 490.7L454.8 492.1L454.9 493.4L454.9 494.8L454.9 496.1L455.0 497.5L454.9 498.8L455.0 500.2L455.1 501.5L454.9 502.9L455.0 504.2L455.0 505.6L454.9 506.9L454.9 508.3L454.9 509.6L455.0 511.0L454.9 512.3L454.9 513.7L455.0 515.0L455.0 516.4L455.1 517.7L455.0 519.1L455.0 520.4L454.9 521.8L455.0 523.1L455.0 524.5L455.0 525.8L455.0 527.2L454.9 528.5L455.0 529.9L455.1 531.2L455.1 532.6L455.0 533.9L455.1 535.3L454.9 536.6L455.0 538.0L455.1 539.3L455.0 540.7L454.8 542.0L454.9 543.4L454.9 544.7L455.0 546.1L454.9 547.4L454.8 548.8L454.9 550.1L454.8 551.5L454.9 552.8L454.8 554.2L454.8 555.5L454.9 556.9L454.8 558.2L454.8 559.6L454.9 560.9L454.9 562.3L455.0 563.6L455.0 565.0L455.1 566.3L455.0 567.7L455.1 569.0L454.9 570.4L454.8 571.7L454.9 573.1L454.8 574.4L454.9 575.8L455.0 577.1L454.9 578.5L455.0 579.8L455.0 581.2L454.9 582.5L454.9 583.9L455.0 585.2L455.0 586.6L454.9 587.9L455.0 589.3L455.2 590.6L455.3 592.0L455.4 593.3L455.5 594.7L455.7 596.0L455.9 597.4L456.1 598.7L456.1 600.1L456.1 601.4L455.9 602.8L455.7 604.1L455.6 605.5L455.4 606.8L455.2 608.2L455.0 609.5L454.8 610.9L454.9 612.2L454.9 613.6L455.0 614.9L455.1 616.3L454.9 617.6L454.9 619.0L454.8 620.3L454.9 621.7L455.0 623.0L455.0 624.4L455.0 625.7L454.9 627.1L454.8 628.4L454.9 629.8L455.0 631.1L454.9 632.5L455.0 633.8L454.8 635.2L454.8 636.5L454.8 637.9L454.9 639.2L454.9 640.6L454.8 641.9L454.9 643.3L454.8 644.6L454.9 646.0L454.8 647.3L454.9 648.7L454.8 650.0L454.8 651.4L454.9 652.7L454.9 654.1L454.9 655.4L454.9 656.8L454.9 658.1L454.8 659.5L454.8 660.8L454.9 662.2L454.9 663.5L454.9 664.9L455.0 666.2L455.0 667.6L455.0 668.9L454.9 670.3L455.0 671.6L455.0 673.0L455.1 674.3L455.0 675.7L454.9 677.0L455.0 678.4L454.9 679.7L455.0 681.1L455.1 682.4L454.9 683.8L454.8 685.1L454.9 686.5L454.9 687.8L454.8 689.2L454.9 690.5L454.9 691.9L455.0 693.2L454.9 694.6L454.9 695.9L454.9 697.3L454.8 698.6L454.8 700.0L454.9 701.3L455.0 702.7L455.1 704.0L454.9 705.4L454.9 706.7L455.0 708.1L454.9 709.4L455.0 710.8L454.9 712.1L454.8 713.5L454.8 714.8L454.7 716.2L454.8 717.5L454.9 718.9L454.9 720.2L454.8 721.6L454.8 722.9L454.8 724.3L454.9 725.6L455.0 727.0L455.1 728.3L454.9 729.7L454.8 731.0L455.0 732.4L454.9 733.7L455.0 735.1L454.9 736.4L454.9 737.8L454.9 739.1L454.9 740.5L454.9 741.8L454.8 743.2L454.9 744.5L455.0 745.9L454.9 747.2L454.9 748.6L455.0 749.9L454.9 751.3L454.8 752.6L454.8 754.0L454.9 755.3L454.8 756.7L454.9 758.0L455.0 759.4L455.0 760.7L455.1 762.1L455.0 763.4L455.0 764.8L455.0 766.1L454.9 767.5L455.0 768.8L455.1 770.2L454.9 771.5L455.0 772.9L455.0 774.2L455.0 775.6L455.1 776.9L455.0 778.3L455.0 779.6L455.1 781.0L455.1 782.3L455.1 783.7L455.1 785.0L455.0 786.4L455.0 787.7L454.9 789.1L454.8 790.4L454.9 791.8L454.8 793.1L454.8 794.5L454.9 795.8L454.9 797.2L454.9 798.5L455.0 799.9L455.0 801.2L454.9 802.6L455.0 803.9L455.0 805.3L454.9 806.6L454.9 808.0L455.0 809.3L455.0 810.7L455.0 812.0L455.0 813.4L455.1 814.7L454.9 816.1L454.9 817.4L455.0 818.8L454.9 820.1L454.9 821.5L454.8 822.8L454.8 824.2L454.8 825.5L454.8 826.9L454.8 828.2L454.9 829.6L454.9 830.9L454.9 832.3L455.0 833.6L455.0 835.0L455.2 836.3L455.2 837.7L455.3 839.0L455.2 840.4L455.4 841.7L455.5 843.1L455.4 844.4L455.7 845.8L455.6 847.1L455.7 848.5L455.8 849.8L455.9 851.2L456.0 852.5L456.0 853.9L456.3 855.2L456.3 856.6L456.4 857.9L456.5 859.3L456.5 860.6L456.6 862.0L456.7 863.3L456.8 864.7L456.9 866.0L457.0 867.4L457.1 868.7L457.1 870.0L457.5 881.8L459.1 891.2L464.0 899.4L468.0 907.6L469.9 917.1L469.5 928.8L469.9 940.6L470.3 952.4L470.9 964.1L471.9 972.4L474.8 985.3L478.8 997.1L483.7 1006.5L487.2 1014.7L488.0 1019.4L488.9 1020.0L487.6 1030.6L493.8 1042.5L494.2 1053.1L493.8 1063.7L496.4 1072.9L504.8 1083.5L510.4 1099.4L514.1 1117.9L517.7 1133.8L519.2 1145.7L518.1 1153.7L514.8 1159.4" fill="none" stroke="#fa8072" stroke-width="1.65" stroke-linejoin="round"/>
<path d="M702.0 1056.4L625.8 1057.0L702.0 1057.6L585.6 1059.2L702.0 1059.4L597.6 1060.6L702.0 1061.8L531.6 1063.2L594.0 1064.2L520.8 1064.8L444.0 1066.4M444.0 1066.8L464.4 1067.8L531.6 1067.2L558.0 1069.6L503.4 1070.8L585.6 1073.2L640.8 1075.6L596.4 1076.4L626.4 1078.6L583.2 1078.6L550.8 1079.8L474.6 1081.7L634.8 1084.0L702.0 1086.4M702.0 1087.6L606.0 1088.2L546.0 1090.0L546.2 1090.6L606.2 1090.6L577.5 1091.9L615.0 1092.8L573.8 1094.4L517.5 1095.0L573.8 1096.9L570.0 1097.5L471.9 1098.5L488.8 1101.9L515.0 1103.1L515.0 1103.8L567.5 1106.2L587.5 1110.0L598.8 1111.9L553.8 1113.8L532.5 1115.6L570.0 1120.0L588.8 1122.5L567.5 1123.8L558.1 1125.0L572.5 1125.6L570.0 1126.2L547.5 1129.4L510.0 1130.0L531.2 1131.5L496.2 1134.0L506.2 1135.6L506.2 1136.9L482.5 1140.0L487.5 1141.2L461.2 1143.8L468.8 1143.5L438.8 1145.2M438.8 1161.5L542.5 1162.2L610.0 1164.4L707.5 1167.5M707.5 1169.8L647.5 1171.5L675.0 1172.5L543.8 1173.5L500.0 1176.2L475.0 1176.2L500.0 1177.5L438.8 1178.8" fill="none" stroke="#0000ff" stroke-width="2.1" stroke-linejoin="round"/>
<path d="M625.8 1057.6L690.0 1059.2M625.8 1059.4L690.0 1061.2M531.6 1064.0L594.0 1063.2M596.4 1075.0L640.8 1076.4M598.8 1077.2L625.2 1078.4M634.8 1085.8L690.0 1087.0M577.2 1091.2L614.4 1092.6M488.8 1101.5L515.0 1103.5M532.5 1105.6L567.5 1106.9M587.5 1110.6L598.8 1111.5M565.0 1122.8L588.8 1122.8M558.1 1125.4L572.5 1125.9M475.0 1176.9L500.0 1176.9M542.5 1163.0L610.0 1163.8M647.5 1171.9L675.0 1172.1" fill="none" stroke="#0000ff" stroke-width="3.2" stroke-linejoin="round"/>
<path d="M714.0 1009.3L494.4 1010.8L606.0 1013.2L667.2 1014.4L627.0 1015.1L667.2 1015.3L690.0 1016.0L438.0 1017.1M438.0 1021.1L534.0 1021.8L606.0 1024.2L658.8 1024.2L669.6 1025.6L644.4 1026.4L658.8 1024.9L644.4 1026.0L562.8 1027.8L517.2 1027.8L562.8 1028.8L517.2 1028.5L472.8 1030.2L468.0 1030.4L444.0 1030.9M444.0 1034.4L492.0 1035.0L444.0 1035.7M444.0 1036.7L471.6 1037.6L501.6 1039.2L516.6 1039.4L501.6 1039.9L516.6 1040.4L702.0 1043.8M702.0 1051.2L558.0 1052.0L547.2 1052.8L570.0 1054.0L548.4 1055.2L534.0 1055.8L528.6 1057.6L549.6 1058.2L597.6 1060.6L562.8 1061.4L638.4 1063.6L613.2 1065.6L531.6 1067.4L583.8 1070.8L558.0 1069.6L519.0 1072.0L552.0 1072.8L525.0 1074.8L552.0 1075.0L607.2 1078.8L576.0 1080.4L552.0 1081.6L493.2 1083.2L526.8 1087.0L519.6 1090.0L538.2 1090.6L537.5 1090.6L486.9 1092.8L516.2 1093.8L473.1 1096.0L538.8 1098.8L552.5 1101.0L520.0 1104.8L540.0 1108.8L553.8 1110.6L543.8 1113.1L532.5 1115.6L531.2 1118.1L537.5 1120.0L548.8 1122.8L545.0 1125.0L538.8 1127.5L546.2 1129.8L532.5 1131.2L543.8 1133.5L537.5 1135.0L541.2 1136.9L526.2 1138.5L498.8 1143.8L438.8 1147.5M438.8 1159.4L612.5 1161.0L577.5 1163.8L511.2 1165.6L572.5 1166.9L550.0 1169.4L487.5 1171.2L502.5 1173.5L532.5 1173.1L502.5 1173.8L590.0 1175.2L576.2 1178.1L438.8 1181.9M438.8 1180.9L575.0 1177.0L590.0 1175.5" fill="none" stroke="#008000" stroke-width="2.1" stroke-linejoin="round"/>
<path d="M627.0 1014.6L667.2 1014.8M517.2 1028.2L562.8 1028.3M644.4 1025.6L669.6 1025.9M444.0 1035.0L492.0 1035.0M501.6 1039.6L516.6 1039.9M534.0 1056.8L570.0 1053.2M529.2 1057.5L549.6 1056.5M564.0 1062.2L636.0 1063.8M532.8 1067.8L582.0 1069.6M511.2 1166.0L572.5 1165.0M550.0 1168.1L572.5 1166.5M502.5 1172.5L550.0 1170.0M576.2 1176.2L590.0 1176.0M520.0 1105.6L532.5 1107.5" fill="none" stroke="#008000" stroke-width="3.2" stroke-linejoin="round"/>
</g>
<path d="M455.5 1044.50H684.5M455.5 891.50H684.5M455.5 737.50H684.5M455.5 584.50H684.5M455.5 430.50H684.5M455.5 277.50H684.5M532.50 123.5V1198.5M608.50 123.5V1198.5" stroke="#b0b0b0" stroke-width="1" fill="none"/>
<rect x="455.5" y="123.5" width="229.0" height="1075.0" fill="none" stroke="#000" stroke-width="1.1"/>
<path d="M449.00 1198.00H455.50M684.50 1198.00H691.00M449.00 1044.50H455.50M684.50 1044.50H691.00M449.00 891.00H455.50M684.50 891.00H691.00M449.00 737.50H455.50M684.50 737.50H691.00M449.00 584.00H455.50M684.50 584.00H691.00M449.00 430.50H455.50M684.50 430.50H691.00M449.00 277.00H455.50M684.50 277.00H691.00M449.00 123.50H455.50M684.50 123.50H691.00M455.00 1198.50V1205.00M455.00 123.50V117.00M532.00 1198.50V1205.00M532.00 123.50V117.00M608.00 1198.50V1205.00M608.00 123.50V117.00M684.00 1198.50V1205.00M684.00 123.50V117.00" stroke="#000" stroke-width="2.1" fill="none"/>
<text x="435.79" y="1203.50" font-size="17.26" textLength="9.07" lengthAdjust="spacingAndGlyphs">0</text>
<text x="436.14" y="1050.00" font-size="17.26" textLength="9.03" lengthAdjust="spacingAndGlyphs">2</text>
<text x="435.27" y="896.50" font-size="17.26" textLength="9.18" lengthAdjust="spacingAndGlyphs">4</text>
<text x="435.61" y="743.00" font-size="17.26" textLength="9.13" lengthAdjust="spacingAndGlyphs">6</text>
<text x="435.79" y="589.50" font-size="17.26" textLength="9.07" lengthAdjust="spacingAndGlyphs">8</text>
<text x="425.83" y="436.00" font-size="17.26" textLength="19.07" lengthAdjust="spacingAndGlyphs">10</text>
<text x="426.31" y="282.50" font-size="17.26" textLength="18.90" lengthAdjust="spacingAndGlyphs">12</text>
<text x="425.59" y="129.00" font-size="17.26" textLength="18.86" lengthAdjust="spacingAndGlyphs">14</text>
<text x="450.06" y="1220.20" font-size="17.26" textLength="9.07" lengthAdjust="spacingAndGlyphs">0</text>
<text x="516.27" y="1220.20" font-size="17.26" textLength="28.89" lengthAdjust="spacingAndGlyphs">100</text>
<text x="592.90" y="1220.20" font-size="17.26" textLength="28.87" lengthAdjust="spacingAndGlyphs">200</text>
<text x="669.01" y="1220.20" font-size="17.26" textLength="28.78" lengthAdjust="spacingAndGlyphs">300</text>
<rect x="587.5" y="231.1" width="94.5" height="62.4" fill="#eff0f6"/>
<text x="594.03" y="247.30" font-size="14.12" textLength="17.84" lengthAdjust="spacingAndGlyphs">LR</text>
<text x="610.93" y="250.00" font-size="9.89" textLength="16.39" lengthAdjust="spacingAndGlyphs">355</text>
<text x="626.87" y="247.30" font-size="14.12" textLength="43.94" lengthAdjust="spacingAndGlyphs">: 45.00</text>
<text x="594.03" y="265.45" font-size="14.12" textLength="17.84" lengthAdjust="spacingAndGlyphs">LR</text>
<text x="610.88" y="268.15" font-size="9.89" textLength="16.45" lengthAdjust="spacingAndGlyphs">532</text>
<text x="626.87" y="265.45" font-size="14.12" textLength="43.94" lengthAdjust="spacingAndGlyphs">: 40.00</text>
<text x="594.03" y="283.60" font-size="14.12" textLength="17.84" lengthAdjust="spacingAndGlyphs">LR</text>
<text x="610.87" y="286.30" font-size="9.89" textLength="22.04" lengthAdjust="spacingAndGlyphs">1064</text>
<text x="632.48" y="283.60" font-size="14.12" textLength="43.94" lengthAdjust="spacingAndGlyphs">: 50.00</text>
<rect x="436.4" y="131.5" width="240.9" height="227.3" rx="3.2" fill="#fff" fill-opacity="0.8" stroke="#ccc" stroke-opacity="0.8" stroke-width="1.1"/>
<line x1="442.20" y1="144.90" x2="474.90" y2="144.90" stroke="#0000ff" stroke-width="2.1"/>
<text x="486.66" y="150.50" font-size="17.26" textLength="146.09" lengthAdjust="spacingAndGlyphs">aerExt_raman_355</text>
<line x1="442.20" y1="169.70" x2="474.90" y2="169.70" stroke="#008000" stroke-width="2.1"/>
<text x="486.66" y="175.30" font-size="17.26" textLength="146.10" lengthAdjust="spacingAndGlyphs">aerExt_raman_532</text>
<line x1="442.20" y1="194.50" x2="474.90" y2="194.50" stroke="#ff0000" stroke-width="2.1"/>
<text x="486.66" y="200.10" font-size="17.26" textLength="155.85" lengthAdjust="spacingAndGlyphs">aerExt_raman_1064</text>
<line x1="442.20" y1="219.30" x2="474.90" y2="219.30" stroke="#800080" stroke-width="2.1" stroke-dasharray="6.34 2.49" stroke-dashoffset="-0.9"/>
<text x="486.68" y="224.90" font-size="17.26" textLength="118.99" lengthAdjust="spacingAndGlyphs">aerExt_RR_355</text>
<line x1="442.20" y1="244.10" x2="474.90" y2="244.10" stroke="#808000" stroke-width="2.1" stroke-dasharray="6.34 2.49" stroke-dashoffset="-0.9"/>
<text x="486.68" y="249.70" font-size="17.26" textLength="118.99" lengthAdjust="spacingAndGlyphs">aerExt_RR_532</text>
<line x1="442.20" y1="268.90" x2="474.90" y2="268.90" stroke="#ffa07a" stroke-width="2.1" stroke-dasharray="6.34 2.49" stroke-dashoffset="-0.9"/>
<text x="486.68" y="274.50" font-size="17.26" textLength="128.76" lengthAdjust="spacingAndGlyphs">aerExt_RR_1064</text>
<line x1="442.20" y1="293.70" x2="474.90" y2="293.70" stroke="#00ffff" stroke-width="2.1"/>
<text x="486.67" y="299.30" font-size="17.26" textLength="174.36" lengthAdjust="spacingAndGlyphs">aerBsc_klett_355 x LR</text>
<line x1="442.20" y1="318.50" x2="474.90" y2="318.50" stroke="#00ff00" stroke-width="2.1"/>
<text x="486.67" y="324.10" font-size="17.26" textLength="174.36" lengthAdjust="spacingAndGlyphs">aerBsc_klett_532 x LR</text>
<line x1="442.20" y1="343.30" x2="474.90" y2="343.30" stroke="#fa8072" stroke-width="2.1"/>
<text x="486.67" y="348.90" font-size="17.26" textLength="184.15" lengthAdjust="spacingAndGlyphs">aerBsc_klett_1064 x LR</text>
<path d="M767.5 1044.50H996.5M767.5 891.50H996.5M767.5 737.50H996.5M767.5 584.50H996.5M767.5 430.50H996.5M767.5 277.50H996.5M862.50 123.5V1198.5M958.50 123.5V1198.5" stroke="#b0b0b0" stroke-width="1" fill="none"/>
<rect x="767.5" y="123.5" width="229.0" height="1075.0" fill="none" stroke="#000" stroke-width="1.1"/>
<path d="M761.00 1198.00H767.50M996.50 1198.00H1003.00M761.00 1044.50H767.50M996.50 1044.50H1003.00M761.00 891.00H767.50M996.50 891.00H1003.00M761.00 737.50H767.50M996.50 737.50H1003.00M761.00 584.00H767.50M996.50 584.00H1003.00M761.00 430.50H767.50M996.50 430.50H1003.00M761.00 277.00H767.50M996.50 277.00H1003.00M761.00 123.50H767.50M996.50 123.50H1003.00M767.00 1198.50V1205.00M767.00 123.50V117.00M862.00 1198.50V1205.00M862.00 123.50V117.00M958.00 1198.50V1205.00M958.00 123.50V117.00" stroke="#000" stroke-width="2.1" fill="none"/>
<text x="747.79" y="1203.50" font-size="17.26" textLength="9.07" lengthAdjust="spacingAndGlyphs">0</text>
<text x="748.14" y="1050.00" font-size="17.26" textLength="9.03" lengthAdjust="spacingAndGlyphs">2</text>
<text x="747.27" y="896.50" font-size="17.26" textLength="9.18" lengthAdjust="spacingAndGlyphs">4</text>
<text x="747.61" y="743.00" font-size="17.26" textLength="9.13" lengthAdjust="spacingAndGlyphs">6</text>
<text x="747.79" y="589.50" font-size="17.26" textLength="9.07" lengthAdjust="spacingAndGlyphs">8</text>
<text x="737.83" y="436.00" font-size="17.26" textLength="19.07" lengthAdjust="spacingAndGlyphs">10</text>
<text x="738.31" y="282.50" font-size="17.26" textLength="18.90" lengthAdjust="spacingAndGlyphs">12</text>
<text x="737.59" y="129.00" font-size="17.26" textLength="18.86" lengthAdjust="spacingAndGlyphs">14</text>
<text x="762.06" y="1220.20" font-size="17.26" textLength="9.07" lengthAdjust="spacingAndGlyphs">0</text>
<text x="852.38" y="1220.20" font-size="17.26" textLength="19.06" lengthAdjust="spacingAndGlyphs">50</text>
<text x="942.67" y="1220.20" font-size="17.26" textLength="28.89" lengthAdjust="spacingAndGlyphs">100</text>
<rect x="780.4" y="131.5" width="209.2" height="153.8" rx="3.2" fill="#fff" fill-opacity="0.8" stroke="#ccc" stroke-opacity="0.8" stroke-width="1.1"/>
<line x1="785.60" y1="144.90" x2="818.60" y2="144.90" stroke="#0000ff" stroke-width="2.1"/>
<text x="830.77" y="150.50" font-size="17.26" textLength="141.74" lengthAdjust="spacingAndGlyphs">aerLR_raman_355</text>
<line x1="785.60" y1="169.70" x2="818.60" y2="169.70" stroke="#008000" stroke-width="2.1"/>
<text x="830.77" y="175.30" font-size="17.26" textLength="141.75" lengthAdjust="spacingAndGlyphs">aerLR_raman_532</text>
<line x1="785.60" y1="194.50" x2="818.60" y2="194.50" stroke="#ff0000" stroke-width="2.1"/>
<text x="830.77" y="200.10" font-size="17.26" textLength="151.51" lengthAdjust="spacingAndGlyphs">aerLR_raman_1064</text>
<line x1="785.60" y1="219.30" x2="818.60" y2="219.30" stroke="#800080" stroke-width="2.1" stroke-dasharray="6.34 2.49" stroke-dashoffset="-0.9"/>
<text x="830.80" y="224.90" font-size="17.26" textLength="114.64" lengthAdjust="spacingAndGlyphs">aerLR_RR_355</text>
<line x1="785.60" y1="244.10" x2="818.60" y2="244.10" stroke="#808000" stroke-width="2.1" stroke-dasharray="6.34 2.49" stroke-dashoffset="-0.9"/>
<text x="830.80" y="249.70" font-size="17.26" textLength="114.63" lengthAdjust="spacingAndGlyphs">aerLR_RR_532</text>
<line x1="785.60" y1="268.90" x2="818.60" y2="268.90" stroke="#ffa07a" stroke-width="2.1" stroke-dasharray="6.34 2.49" stroke-dashoffset="-0.9"/>
<text x="830.79" y="274.50" font-size="17.26" textLength="124.43" lengthAdjust="spacingAndGlyphs">aerLR_RR_1064</text>
<path d="M1078.5 1044.50H1308.5M1078.5 891.50H1308.5M1078.5 737.50H1308.5M1078.5 584.50H1308.5M1078.5 430.50H1308.5M1078.5 277.50H1308.5M1136.50 123.5V1198.5M1193.50 123.5V1198.5M1251.50 123.5V1198.5" stroke="#b0b0b0" stroke-width="1" fill="none"/>
<clipPath id="c3"><rect x="1078.5" y="123.5" width="230.0" height="1075.0"/></clipPath>
<g clip-path="url(#c3)">
<line x1="1136.00" y1="123.50" x2="1136.00" y2="1180.32" stroke="#ff00ff" stroke-width="2.1"/>
<path d="M1136.0 73.9L1136.0 1001.8L1193.1 1006.7L1251.4 1009.9L1329.0 1013.2M1164.8 1063.3L1151.0 1064.1L1141.3 1065.8L1135.7 1066.6L1140.5 1067.9L1134.9 1069.0L1121.1 1070.3L1131.6 1071.4L1141.3 1073.5L1144.6 1075.8L1167.2 1077.6L1193.1 1079.0L1207.7 1081.1L1209.3 1081.9L1204.4 1082.8L1207.7 1084.4L1232.0 1086.5L1248.1 1088.1L1274.3 1090.4L1251.4 1092.1L1215.8 1094.1L1180.2 1095.7L1167.2 1098.1L1147.8 1100.1L1135.7 1101.4L1143.8 1103.0L1131.3 1104.9L1143.0 1106.5L1154.3 1108.6L1165.6 1111.1L1170.0 1115.6L1165.6 1117.9L1164.5 1122.4L1159.1 1125.6L1147.8 1127.6L1130.0 1129.7L1107.4 1132.6L1062.0 1137.0M1329.0 1146.2L1248.1 1146.3L1193.1 1147.5L1154.3 1149.1L1134.9 1151.2L1128.4 1152.7L1142.1 1155.1L1134.9 1158.0L1118.7 1160.1L1062.0 1162.0M1329.0 1164.6L1232.0 1166.4L1218.2 1166.9L1234.1 1168.8L1215.8 1171.4L1167.2 1173.7L1062.0 1176.1M1329.0 1177.1L1136.0 1180.3L1136.0 1206.5" fill="none" stroke="#000" stroke-width="1.8" stroke-linejoin="round"/>
</g>
<rect x="1078.5" y="123.5" width="230.0" height="1075.0" fill="none" stroke="#000" stroke-width="1.1"/>
<path d="M1072.00 1198.00H1078.50M1308.50 1198.00H1315.00M1072.00 1044.50H1078.50M1308.50 1044.50H1315.00M1072.00 891.00H1078.50M1308.50 891.00H1315.00M1072.00 737.50H1078.50M1308.50 737.50H1315.00M1072.00 584.00H1078.50M1308.50 584.00H1315.00M1072.00 430.50H1078.50M1308.50 430.50H1315.00M1072.00 277.00H1078.50M1308.50 277.00H1315.00M1072.00 123.50H1078.50M1308.50 123.50H1315.00M1078.00 1198.50V1205.00M1078.00 123.50V117.00M1136.00 1198.50V1205.00M1136.00 123.50V117.00M1193.00 1198.50V1205.00M1193.00 123.50V117.00M1251.00 1198.50V1205.00M1251.00 123.50V117.00M1308.00 1198.50V1205.00M1308.00 123.50V117.00" stroke="#000" stroke-width="2.1" fill="none"/>
<text x="1058.79" y="1203.50" font-size="17.26" textLength="9.07" lengthAdjust="spacingAndGlyphs">0</text>
<text x="1059.14" y="1050.00" font-size="17.26" textLength="9.03" lengthAdjust="spacingAndGlyphs">2</text>
<text x="1058.27" y="896.50" font-size="17.26" textLength="9.18" lengthAdjust="spacingAndGlyphs">4</text>
<text x="1058.61" y="743.00" font-size="17.26" textLength="9.13" lengthAdjust="spacingAndGlyphs">6</text>
<text x="1058.79" y="589.50" font-size="17.26" textLength="9.07" lengthAdjust="spacingAndGlyphs">8</text>
<text x="1048.83" y="436.00" font-size="17.26" textLength="19.07" lengthAdjust="spacingAndGlyphs">10</text>
<text x="1049.31" y="282.50" font-size="17.26" textLength="18.90" lengthAdjust="spacingAndGlyphs">12</text>
<text x="1048.59" y="129.00" font-size="17.26" textLength="18.86" lengthAdjust="spacingAndGlyphs">14</text>
<text x="1067.30" y="1220.20" font-size="17.26" textLength="21.00" lengthAdjust="spacingAndGlyphs">−1</text>
<text x="1130.66" y="1220.20" font-size="17.26" textLength="9.07" lengthAdjust="spacingAndGlyphs">0</text>
<text x="1188.42" y="1220.20" font-size="17.26" textLength="8.13" lengthAdjust="spacingAndGlyphs">1</text>
<text x="1245.78" y="1220.20" font-size="17.26" textLength="9.03" lengthAdjust="spacingAndGlyphs">2</text>
<text x="1303.12" y="1220.20" font-size="17.26" textLength="8.98" lengthAdjust="spacingAndGlyphs">3</text>
<rect x="1024.1" y="131.5" width="276.6" height="78.9" rx="3.2" fill="#fff" fill-opacity="0.8" stroke="#ccc" stroke-opacity="0.8" stroke-width="1.1"/>
<line x1="1030.00" y1="144.90" x2="1062.80" y2="144.90" stroke="#ffa500" stroke-width="2.1"/>
<text x="1074.81" y="150.50" font-size="17.26" textLength="201.07" lengthAdjust="spacingAndGlyphs">AE_beta_355_532_Raman</text>
<line x1="1030.00" y1="169.70" x2="1062.80" y2="169.70" stroke="#ff00ff" stroke-width="2.1"/>
<text x="1074.81" y="175.30" font-size="17.26" textLength="210.87" lengthAdjust="spacingAndGlyphs">AE_beta_532_1064_Raman</text>
<line x1="1030.00" y1="194.50" x2="1062.80" y2="194.50" stroke="#000" stroke-width="2.1"/>
<text x="1074.81" y="200.10" font-size="17.26" textLength="219.22" lengthAdjust="spacingAndGlyphs">AE_parExt_355_532_Raman</text>
<clipPath id="c4"><rect x="1390.5" y="123.5" width="230.0" height="1075.0"/></clipPath>
<g clip-path="url(#c4)">
<path d="M1390.5 125.1H1437.0V127.3H1390.5zM1390.5 127.3H1416.0V128.3H1390.5zM1390.5 129.0H1620.5V135.7H1390.5zM1390.5 156.3H1620.5V159.5H1390.5zM1390.5 161.0H1408.6V163.5H1390.5zM1390.5 166.8H1620.5V171.5H1390.5zM1390.5 173.0H1415.0V175.0H1390.5zM1390.5 176.5H1403.0V178.0H1390.5zM1390.5 179.5H1404.0V181.0H1390.5zM1390.5 185.0H1401.0V188.0H1390.5zM1390.5 188.5H1610.0V193.5H1390.5zM1390.5 193.5H1620.5V204.3H1390.5zM1390.5 213.8H1503.0V219.0H1390.5zM1390.5 221.6H1620.5V225.4H1390.5zM1402.0 226.2H1620.5V228.0H1402.0zM1390.5 228.0H1620.5V233.0H1390.5zM1390.5 233.0H1608.0V236.5H1390.5zM1419.0 236.5H1600.0V239.6H1419.0zM1390.5 243.0H1608.0V245.0H1390.5zM1390.5 250.2H1620.5V253.5H1390.5zM1419.0 253.5H1612.0V256.5H1419.0zM1390.5 258.0H1451.0V260.6H1390.5zM1390.5 263.9H1620.5V267.5H1390.5zM1390.5 274.3H1620.5V277.2H1390.5zM1390.5 277.8H1490.0V280.4H1390.5zM1390.5 280.4H1524.0V283.0H1390.5zM1390.5 286.9H1417.0V288.9H1390.5zM1390.5 290.8H1412.5V292.8H1390.5zM1390.5 293.4H1397.0V294.5H1390.5zM1390.5 295.4H1400.8V297.3H1390.5zM1390.5 309.0H1440.0V317.6H1390.5zM1440.0 310.3H1540.0V317.6H1440.0zM1540.0 312.6H1620.5V317.6H1540.0zM1390.5 317.6H1425.0V319.2H1390.5zM1390.5 319.2H1620.5V324.0H1390.5zM1390.5 338.5H1396.0V341.0H1390.5zM1390.5 344.2H1405.0V346.8H1390.5zM1403.0 347.8H1431.0V350.0H1403.0zM1390.5 346.8H1410.0V351.3H1390.5zM1390.5 351.3H1399.0V353.2H1390.5zM1390.5 354.2H1620.5V356.9H1390.5zM1390.5 359.0H1393.0V361.0H1390.5zM1390.5 364.5H1410.0V368.2H1390.5zM1390.5 376.3H1620.5V378.6H1390.5zM1486.0 379.9H1620.5V381.9H1486.0zM1445.0 385.5H1489.0V390.3H1445.0zM1430.0 387.5H1445.0V390.3H1430.0zM1489.0 384.6H1620.5V386.4H1489.0zM1390.5 391.5H1620.5V397.5H1390.5zM1390.5 397.5H1435.0V400.0H1390.5zM1390.5 400.0H1399.0V401.3H1390.5zM1390.5 409.8H1469.0V413.0H1390.5zM1390.5 413.6H1408.0V416.3H1390.5zM1390.5 424.8H1620.5V427.2H1390.5zM1510.0 427.2H1620.5V429.4H1510.0zM1456.0 432.4H1571.0V435.3H1456.0zM1390.5 435.3H1620.5V438.9H1390.5zM1390.5 447.6H1620.5V452.5H1390.5zM1390.5 452.5H1415.0V453.8H1390.5zM1390.5 455.8H1425.5V458.7H1390.5zM1390.5 461.9H1617.0V463.6H1390.5zM1390.5 463.6H1501.0V465.5H1390.5zM1464.0 465.5H1620.5V469.1H1464.0zM1390.5 467.8H1440.0V470.7H1390.5zM1390.5 482.8H1435.0V486.3H1390.5zM1390.5 487.6H1620.5V490.9H1390.5zM1390.5 491.0H1454.0V494.8H1390.5zM1390.5 494.8H1436.0V500.6H1390.5zM1390.5 498.7H1471.0V500.9H1390.5zM1390.5 504.2H1620.5V511.7H1390.5zM1390.5 530.8H1620.5V535.0H1390.5zM1390.5 536.4H1409.6V539.0H1390.5zM1390.5 540.9H1620.5V542.9H1390.5zM1440.5 541.5H1620.5V545.0H1440.5zM1573.7 545.0H1620.5V550.0H1573.7zM1500.0 549.4H1620.5V551.5H1500.0zM1471.0 551.5H1510.0V553.9H1471.0zM1390.5 554.6H1620.5V560.1H1390.5zM1390.5 578.8H1620.5V581.0H1390.5zM1390.5 582.0H1620.5V584.3H1390.5zM1390.5 586.2H1620.5V590.2H1390.5zM1575.0 591.8H1620.5V594.0H1575.0zM1475.5 597.0H1620.5V599.2H1475.5zM1475.5 599.2H1506.0V601.2H1475.5zM1468.4 601.2H1524.3V603.8H1468.4zM1480.0 603.8H1501.0V607.3H1480.0zM1501.0 606.0H1522.0V610.6H1501.0zM1522.0 608.0H1540.0V612.0H1522.0zM1528.0 609.4H1585.0V613.0H1528.0zM1585.0 611.9H1620.5V614.4H1585.0zM1390.5 614.1H1620.5V617.5H1390.5zM1571.0 617.5H1620.5V619.8H1571.0zM1505.0 619.6H1620.5V624.0H1505.0zM1479.4 620.6H1505.0V624.0H1479.4zM1530.0 636.3H1595.6V639.4H1530.0zM1390.5 638.9H1620.5V645.1H1390.5zM1562.0 645.0H1620.5V648.0H1562.0zM1449.0 647.7H1620.5V650.0H1449.0zM1390.5 652.6H1620.5V654.1H1390.5zM1390.5 662.7H1620.5V666.9H1390.5zM1512.3 668.2H1620.5V669.8H1512.3zM1390.5 674.0H1620.5V678.6H1390.5zM1390.5 680.2H1620.5V685.7H1390.5zM1452.0 685.7H1620.5V688.3H1452.0zM1445.0 693.5H1534.0V695.5H1445.0zM1432.0 695.5H1510.0V698.0H1432.0zM1519.0 698.0H1620.5V700.0H1519.0zM1539.0 700.0H1620.5V703.9H1539.0zM1390.5 705.2H1620.5V708.8H1390.5zM1390.5 723.0H1620.5V725.0H1390.5zM1390.5 728.0H1620.5V729.7H1390.5zM1390.5 743.9H1620.5V747.5H1390.5zM1390.5 770.9H1620.5V775.5H1390.5zM1390.5 783.9H1620.5V785.9H1390.5zM1390.5 831.0H1620.5V833.0H1390.5zM1390.5 834.0H1620.5V837.2H1390.5z" fill="#00ff00"/>
<path d="M1390.5 624.6L1479.5 622.7M1390.5 633.3L1529.5 637.6M1529.5 637.6L1596.0 637.0M1409.0 691.0L1606.0 689.5M1409.0 691.0L1534.0 693.8M1424.0 431.5L1477.0 432.1M1432.0 432.4L1457.0 434.9M1424.0 431.4L1514.0 428.4M1489.9 781.0L1620.5 779.6M1527.0 782.3L1620.5 781.3M1390.5 346.8L1431.0 349.0M1431.0 349.0L1390.5 351.3M1390.5 363.0L1410.0 366.5" stroke="#00ff00" stroke-width="2" fill="none"/>
<path d="M1390.8 890.2L1397.6 892.4L1405.9 894.9L1415.3 900.8L1423.5 903.5L1430.6 907.6L1434.7 912.9L1434.7 916.5L1433.5 917.6L1435.3 920.6L1438.8 928.2L1441.8 929.2L1437.6 932.9L1434.7 937.6L1432.7 941.8L1435.9 944.4L1436.2 948.2L1438.0 951.2L1436.2 957.6L1437.1 962.9L1436.8 966.5L1440.0 968.8L1440.6 974.1L1443.5 978.2L1443.5 981.2L1446.5 984.1L1447.6 988.2L1451.2 991.2L1454.1 996.1L1455.9 997.6L1456.5 1001.8L1456.2 1007.1L1458.2 1012.9L1460.6 1018.8L1460.9 1020.0L1460.6 1025.9L1460.6 1031.2L1463.5 1035.9L1467.6 1040.2L1469.1 1045.3L1468.8 1055.3L1468.5 1063.5L1470.0 1070.6L1472.9 1078.2L1475.9 1084.7L1477.1 1091.2L1476.5 1100.0L1475.9 1109.4L1476.1 1120.0L1475.3 1130.6L1475.3 1143.5L1475.5 1152.9L1476.7 1159.8" fill="none" stroke="#00ff00" stroke-width="1.95" stroke-linejoin="round"/>
</g>
<path d="M1390.5 1044.50H1620.5M1390.5 891.50H1620.5M1390.5 737.50H1620.5M1390.5 584.50H1620.5M1390.5 430.50H1620.5M1390.5 277.50H1620.5M1467.50 123.5V1198.5M1543.50 123.5V1198.5" stroke="#b0b0b0" stroke-width="1" fill="none"/>
<rect x="1390.5" y="123.5" width="230.0" height="1075.0" fill="none" stroke="#000" stroke-width="1.1"/>
<path d="M1384.00 1198.00H1390.50M1620.50 1198.00H1627.00M1384.00 1044.50H1390.50M1620.50 1044.50H1627.00M1384.00 891.00H1390.50M1620.50 891.00H1627.00M1384.00 737.50H1390.50M1620.50 737.50H1627.00M1384.00 584.00H1390.50M1620.50 584.00H1627.00M1384.00 430.50H1390.50M1620.50 430.50H1627.00M1384.00 277.00H1390.50M1620.50 277.00H1627.00M1384.00 123.50H1390.50M1620.50 123.50H1627.00M1390.00 1198.50V1205.00M1390.00 123.50V117.00M1467.00 1198.50V1205.00M1467.00 123.50V117.00M1543.00 1198.50V1205.00M1543.00 123.50V117.00M1620.00 1198.50V1205.00M1620.00 123.50V117.00" stroke="#000" stroke-width="2.1" fill="none"/>
<text x="1370.79" y="1203.50" font-size="17.26" textLength="9.07" lengthAdjust="spacingAndGlyphs">0</text>
<text x="1371.14" y="1050.00" font-size="17.26" textLength="9.03" lengthAdjust="spacingAndGlyphs">2</text>
<text x="1370.27" y="896.50" font-size="17.26" textLength="9.18" lengthAdjust="spacingAndGlyphs">4</text>
<text x="1370.61" y="743.00" font-size="17.26" textLength="9.13" lengthAdjust="spacingAndGlyphs">6</text>
<text x="1370.79" y="589.50" font-size="17.26" textLength="9.07" lengthAdjust="spacingAndGlyphs">8</text>
<text x="1360.83" y="436.00" font-size="17.26" textLength="19.07" lengthAdjust="spacingAndGlyphs">10</text>
<text x="1361.31" y="282.50" font-size="17.26" textLength="18.90" lengthAdjust="spacingAndGlyphs">12</text>
<text x="1360.59" y="129.00" font-size="17.26" textLength="18.86" lengthAdjust="spacingAndGlyphs">14</text>
<text x="1377.70" y="1220.20" font-size="17.26" textLength="23.81" lengthAdjust="spacingAndGlyphs">0.0</text>
<text x="1454.63" y="1220.20" font-size="17.26" textLength="23.65" lengthAdjust="spacingAndGlyphs">0.2</text>
<text x="1530.87" y="1220.20" font-size="17.26" textLength="23.61" lengthAdjust="spacingAndGlyphs">0.4</text>
<text x="1607.67" y="1220.20" font-size="17.26" textLength="23.73" lengthAdjust="spacingAndGlyphs">0.6</text>
<rect x="1489" y="330.3" width="96" height="72.5" fill="#eceef5" fill-opacity="0.82"/>
<text x="1495.42" y="349.80" font-size="15.74" textLength="9.18" lengthAdjust="spacingAndGlyphs" font-family="Liberation Sans, sans-serif" font-style="italic">η</text>
<text x="1504.97" y="352.80" font-size="11.02" textLength="19.75" lengthAdjust="spacingAndGlyphs" font-family="Liberation Sans, sans-serif">355</text>
<text x="1525.26" y="349.80" font-size="17.27" textLength="53.60" lengthAdjust="spacingAndGlyphs">: 12.33</text>
<text x="1495.42" y="371.60" font-size="15.74" textLength="9.18" lengthAdjust="spacingAndGlyphs" font-family="Liberation Sans, sans-serif" font-style="italic">η</text>
<text x="1504.93" y="374.60" font-size="11.02" textLength="19.72" lengthAdjust="spacingAndGlyphs" font-family="Liberation Sans, sans-serif">532</text>
<text x="1525.26" y="371.60" font-size="17.27" textLength="43.80" lengthAdjust="spacingAndGlyphs">: 6.35</text>
<text x="1495.42" y="393.40" font-size="15.74" textLength="9.18" lengthAdjust="spacingAndGlyphs" font-family="Liberation Sans, sans-serif" font-style="italic">η</text>
<text x="1504.84" y="396.40" font-size="11.02" textLength="26.91" lengthAdjust="spacingAndGlyphs" font-family="Liberation Sans, sans-serif">1064</text>
<text x="1532.08" y="393.40" font-size="17.27" textLength="38.82" lengthAdjust="spacingAndGlyphs">: nan</text>
<rect x="1380.6" y="131.5" width="231.9" height="154.1" rx="3.2" fill="#fff" fill-opacity="0.8" stroke="#ccc" stroke-opacity="0.8" stroke-width="1.1"/>
<line x1="1385.00" y1="144.90" x2="1418.00" y2="144.90" stroke="#0000ff" stroke-width="2.1"/>
<text x="1429.88" y="150.50" font-size="17.26" textLength="166.23" lengthAdjust="spacingAndGlyphs">parDepol_raman_355</text>
<line x1="1385.00" y1="169.70" x2="1418.00" y2="169.70" stroke="#008000" stroke-width="2.1"/>
<text x="1429.88" y="175.30" font-size="17.26" textLength="166.24" lengthAdjust="spacingAndGlyphs">parDepol_raman_532</text>
<line x1="1385.00" y1="194.50" x2="1418.00" y2="194.50" stroke="#ff0000" stroke-width="2.1"/>
<text x="1429.88" y="200.10" font-size="17.26" textLength="175.94" lengthAdjust="spacingAndGlyphs">parDepol_raman_1064</text>
<line x1="1385.00" y1="219.30" x2="1418.00" y2="219.30" stroke="#00ffff" stroke-width="2.1"/>
<text x="1429.88" y="224.90" font-size="17.26" textLength="151.76" lengthAdjust="spacingAndGlyphs">parDepol_klett_355</text>
<line x1="1385.00" y1="244.10" x2="1418.00" y2="244.10" stroke="#00ff00" stroke-width="2.1"/>
<text x="1429.88" y="249.70" font-size="17.26" textLength="151.77" lengthAdjust="spacingAndGlyphs">parDepol_klett_532</text>
<line x1="1385.00" y1="268.90" x2="1418.00" y2="268.90" stroke="#fa8072" stroke-width="2.1"/>
<text x="1429.88" y="274.50" font-size="17.26" textLength="161.52" lengthAdjust="spacingAndGlyphs">parDepol_klett_1064</text>
<path d="M1702.5 1044.50H1932.5M1702.5 891.50H1932.5M1702.5 737.50H1932.5M1702.5 584.50H1932.5M1702.5 430.50H1932.5M1702.5 277.50H1932.5M1794.50 123.5V1198.5M1886.50 123.5V1198.5" stroke="#b0b0b0" stroke-width="1" fill="none"/>
<rect x="1702.5" y="123.5" width="230.0" height="1075.0" fill="none" stroke="#000" stroke-width="1.1"/>
<path d="M1696.00 1198.00H1702.50M1932.50 1198.00H1939.00M1696.00 1044.50H1702.50M1932.50 1044.50H1939.00M1696.00 891.00H1702.50M1932.50 891.00H1939.00M1696.00 737.50H1702.50M1932.50 737.50H1939.00M1696.00 584.00H1702.50M1932.50 584.00H1939.00M1696.00 430.50H1702.50M1932.50 430.50H1939.00M1696.00 277.00H1702.50M1932.50 277.00H1939.00M1696.00 123.50H1702.50M1932.50 123.50H1939.00M1702.00 1198.50V1205.00M1794.00 1198.50V1205.00M1886.00 1198.50V1205.00M1702.00 123.50V117.00M1760.00 123.50V117.00M1817.00 123.50V117.00M1875.00 123.50V117.00M1932.00 123.50V117.00" stroke="#000" stroke-width="2.1" fill="none"/>
<text x="1682.79" y="1203.50" font-size="17.26" textLength="9.07" lengthAdjust="spacingAndGlyphs">0</text>
<text x="1683.14" y="1050.00" font-size="17.26" textLength="9.03" lengthAdjust="spacingAndGlyphs">2</text>
<text x="1682.27" y="896.50" font-size="17.26" textLength="9.18" lengthAdjust="spacingAndGlyphs">4</text>
<text x="1682.61" y="743.00" font-size="17.26" textLength="9.13" lengthAdjust="spacingAndGlyphs">6</text>
<text x="1682.79" y="589.50" font-size="17.26" textLength="9.07" lengthAdjust="spacingAndGlyphs">8</text>
<text x="1672.83" y="436.00" font-size="17.26" textLength="19.07" lengthAdjust="spacingAndGlyphs">10</text>
<text x="1673.31" y="282.50" font-size="17.26" textLength="18.90" lengthAdjust="spacingAndGlyphs">12</text>
<text x="1672.59" y="129.00" font-size="17.26" textLength="18.86" lengthAdjust="spacingAndGlyphs">14</text>
<text x="1697.16" y="1220.20" font-size="17.26" textLength="9.07" lengthAdjust="spacingAndGlyphs">0</text>
<text x="1784.10" y="1220.20" font-size="17.26" textLength="19.06" lengthAdjust="spacingAndGlyphs">20</text>
<text x="1876.26" y="1220.20" font-size="17.26" textLength="19.19" lengthAdjust="spacingAndGlyphs">40</text>
<rect x="1814.2" y="131.5" width="110.5" height="29.8" rx="3.2" fill="#fff" fill-opacity="0.8" stroke="#ccc" stroke-opacity="0.8" stroke-width="1.1"/>
<line x1="1819.20" y1="144.90" x2="1851.90" y2="144.90" stroke="#0000ff" stroke-width="2.1"/>
<text x="1864.00" y="150.50" font-size="17.26" textLength="54.55" lengthAdjust="spacingAndGlyphs">WVMR</text>
<rect x="1820.3" y="185.5" width="81.2" height="28.7" rx="3.2" fill="#fff" fill-opacity="0.8" stroke="#ccc" stroke-opacity="0.8" stroke-width="1.1"/>
<line x1="1825.30" y1="198.80" x2="1858.20" y2="198.80" stroke="#008000" stroke-width="2.1"/>
<text x="1870.93" y="204.40" font-size="17.26" textLength="24.31" lengthAdjust="spacingAndGlyphs">RH</text>
<rect x="195" y="1276" width="211" height="66" fill="#f2f3f8"/>
<text x="199.62" y="1294.60" font-size="17.26" textLength="178.72" lengthAdjust="spacingAndGlyphs">ref.H_355: nan-nan km</text>
<text x="199.62" y="1314.00" font-size="17.26" textLength="189.26" lengthAdjust="spacingAndGlyphs">ref.H_532: 4.35-5.85 km</text>
<text x="199.62" y="1333.50" font-size="17.26" textLength="199.06" lengthAdjust="spacingAndGlyphs">ref.H_1064: 5.30-6.78 km</text>
<rect x="1695" y="1274" width="165" height="28" fill="#f2f3f8"/>
<text x="1700.00" y="1292.00" font-size="17.26" textLength="153.95" lengthAdjust="spacingAndGlyphs">WV-calib.const.: 3.8</text>
<text x="1001.22" y="1327.70" font-size="14.91" textLength="87.80" lengthAdjust="spacingAndGlyphs" font-weight="bold" fill="#ff2222">Preliminary</text>
<text x="1001.21" y="1342.70" font-size="14.91" textLength="59.32" lengthAdjust="spacingAndGlyphs" font-weight="bold" fill="#ff2222">Results.</text>
<text x="1500.39" y="1331.80" font-size="12.56" textLength="106.40" lengthAdjust="spacingAndGlyphs" font-weight="bold">© TROPOS 2025.</text>
<text x="1499.84" y="1343.50" font-size="12.56" textLength="138.29" lengthAdjust="spacingAndGlyphs" font-weight="bold">CC BY SA 4.0 License.</text>
<g>
<clipPath id="ccb"><path d="M662 1352V1299.5a2.5 2.5 0 0 1 2.5-2.5h151a2.5 2.5 0 0 1 2.5 2.5V1352z"/></clipPath>
<g clip-path="url(#ccb)">
<rect x="662" y="1297" width="156" height="55" fill="#bac1bc"/>
<rect x="662" y="1336.3" width="156" height="16" fill="#333"/>
<circle cx="689" cy="1322.5" r="25" fill="#bac1bc"/>
</g>
<path d="M662.5 1351.5V1299.5a2 2 0 0 1 2-2h151a2 2 0 0 1 2 2V1351.5z" fill="none" stroke="#333" stroke-width="1"/>
<circle cx="689" cy="1322.5" r="18.3" fill="#fff" stroke="#333" stroke-width="3.6"/>
<path d="M687.02 1319.72A4.60 4.97 0 1 0 687.02 1325.88" fill="none" stroke="#333" stroke-width="3.3"/>
<path d="M698.72 1319.72A4.60 4.97 0 1 0 698.72 1325.88" fill="none" stroke="#333" stroke-width="3.3"/>
<circle cx="744.3" cy="1316.5" r="13.6" fill="#fff" stroke="#333" stroke-width="2.8"/>
<circle cx="781.3" cy="1316.5" r="13.6" fill="#fff" stroke="#333" stroke-width="2.8"/>
<circle cx="744.3" cy="1308.9" r="2.2" fill="#333"/>
<path d="M740.2 1312.2h8.1v6.5h-1.65v7.3h-4.55v-7.3h-1.9z" fill="#333"/>
<path d="M777.54 1312.85A5.30 6.30 0 1 1 776.88 1319.76" fill="none" stroke="#333" stroke-width="3.7"/>
<path d="M773.8 1314.5L779.6 1313.6L776.6 1317.6z" fill="#333"/>
<text x="735.8" y="1349" font-size="12.4" font-weight="bold" fill="#fff" font-family="Liberation Sans, sans-serif" textLength="15.2" lengthAdjust="spacingAndGlyphs">BY</text>
<text x="772" y="1349" font-size="12.4" font-weight="bold" fill="#fff" font-family="Liberation Sans, sans-serif" textLength="15.8" lengthAdjust="spacingAndGlyphs">SA</text>
</g>
</svg>
</body></html>
